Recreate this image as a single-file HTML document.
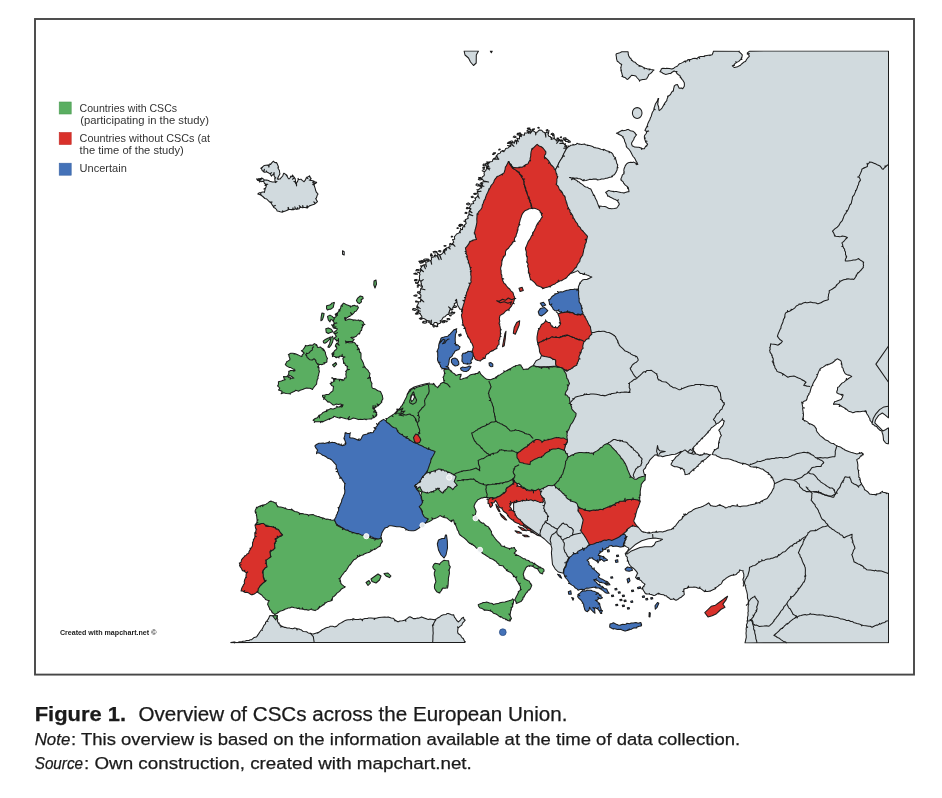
<!DOCTYPE html>
<html><head><meta charset="utf-8"><title>Figure 1</title>
<style>
html,body{margin:0;padding:0;background:#fff;}
body{width:942px;height:798px;position:relative;overflow:hidden;}
svg{position:absolute;left:0;top:0;}
text{font-family:"Liberation Sans",sans-serif;white-space:pre;}
</style></head><body>
<svg width="942" height="798" viewBox="0 0 942 798">
<rect x="35" y="19" width="879" height="655.6" fill="none" stroke="#474747" stroke-width="1.9"/>
<defs><clipPath id="mapclip"><rect x="225" y="50.4" width="664" height="593"/></clipPath></defs>
<g clip-path="url(#mapclip)" stroke="#1c1c1c" stroke-width="1.05" stroke-linejoin="round">
<path d="M230.8 642.6L234.0 642.0L234.5 643.4L234.7 641.9L235.5 642.5L236.8 642.4L238.0 642.2L240.0 641.8L241.2 641.9L242.8 641.3L245.3 641.0L246.5 640.5L249.3 640.5L249.9 639.7L251.7 639.7L254.2 637.4L256.1 637.1L256.7 636.7L257.7 635.1L258.6 633.9L259.8 632.0L261.1 630.2L261.6 629.9L262.3 630.4L261.8 629.5L262.7 628.1L264.0 625.3L265.6 623.6L265.5 622.3L266.8 621.1L268.0 621.6L267.0 620.8L268.6 618.6L269.5 616.2L270.0 615.6L273.0 615.7L274.5 616.1L275.9 615.8L277.3 615.9L277.5 615.8L277.2 617.9L277.8 619.7L277.3 620.9L278.5 623.2L279.3 623.0L278.8 623.7L280.0 624.4L279.8 625.3L282.0 626.2L280.4 626.9L282.5 626.4L284.7 627.4L285.0 627.2L287.2 628.1L289.8 628.0L290.0 628.2L292.7 628.7L294.8 627.9L296.6 628.5L297.0 630.0L297.4 628.8L298.9 629.0L300.2 629.6L301.6 630.1L303.3 631.6L306.6 631.8L308.2 632.9L309.6 633.2L311.8 633.8L313.3 634.1L314.9 633.4L316.5 632.9L317.8 632.6L317.7 633.2L318.5 632.4L318.4 632.7L320.7 631.0L322.6 629.4L323.3 629.3L326.2 627.8L329.3 627.0L330.0 626.3L332.7 626.3L334.9 626.9L336.2 626.3L336.5 626.5L338.6 624.3L340.1 623.4L341.8 622.5L343.0 621.8L345.3 620.4L346.7 619.9L348.1 619.8L350.1 619.7L352.0 619.2L353.3 618.8L352.7 620.1L353.7 618.8L355.0 619.6L357.0 619.4L358.3 619.6L360.5 619.1L361.8 619.6L362.4 620.8L362.5 619.5L362.9 619.2L364.9 618.4L367.6 618.4L368.3 618.1L371.0 617.9L373.6 618.3L375.0 618.3L374.1 619.5L375.7 618.2L376.2 618.2L379.0 617.5L381.7 617.2L384.9 617.1L386.2 617.3L388.2 616.9L391.3 618.1L393.3 618.3L395.2 620.1L394.6 620.8L395.7 620.5L397.8 621.7L398.3 621.8L399.8 621.0L402.4 620.8L404.6 620.3L405.0 620.0L405.9 621.3L405.5 619.7L407.3 618.4L408.6 617.3L410.0 616.7L412.0 617.8L413.3 618.6L415.7 618.6L417.8 618.1L418.3 618.2L420.5 617.5L421.6 616.9L424.1 617.9L427.0 619.1L428.3 619.5L429.9 619.1L433.2 619.4L435.0 620.0L435.1 619.3L435.4 619.7L437.2 618.3L439.2 617.3L441.5 615.4L443.4 614.8L446.1 614.4L447.0 613.6L448.3 613.4L450.4 614.2L451.7 614.9L453.6 614.8L454.6 617.6L455.3 618.0L456.7 620.5L458.5 621.9L457.9 621.8L458.7 621.7L459.6 620.8L460.7 619.8L461.5 618.5L463.5 617.3L463.9 619.2L465.2 620.1L463.9 621.6L462.5 623.1L461.8 625.1L459.6 626.7L458.4 627.8L457.5 626.9L458.0 628.3L457.9 629.1L457.6 631.8L458.1 633.5L460.8 635.4L461.5 637.0L462.7 638.3L463.2 638.3L464.5 641.3L465.3 641.4L464.6 641.6L465.0 642.5Z" fill="#d1dade"/>
<path d="M462.5 309.2L460.0 309.2L457.5 305.0L456.5 299.3L455.3 300.5L456.8 301.7L456.0 302.8L454.2 303.7L454.8 306.3L452.7 307.5L452.8 309.8L452.1 309.6L448.6 306.9L451.7 310.1L449.6 309.9L449.3 312.4L449.2 314.0L448.9 311.9L448.8 314.5L447.5 314.3L446.4 315.2L444.8 316.8L443.3 317.2L442.7 318.2L441.5 320.3L440.2 320.4L440.6 322.9L439.5 323.6L438.1 323.8L437.3 326.2L437.5 324.0L436.8 322.6L434.5 322.5L433.1 324.7L434.0 326.6L432.7 324.5L431.3 324.5L431.4 320.1L430.6 324.3L430.3 323.3L428.6 322.3L429.2 321.6L427.7 321.0L430.1 321.0L427.3 320.6L426.5 321.0L426.3 320.1L425.7 319.4L423.8 318.6L422.2 318.3L420.0 318.2L421.9 317.9L421.8 316.4L421.1 315.3L420.4 314.3L420.3 313.3L419.3 313.6L418.8 312.5L417.9 310.8L420.4 311.2L417.6 310.1L418.1 309.6L417.6 307.4L416.6 307.7L417.4 306.7L416.7 306.4L420.3 308.6L416.8 306.0L417.3 305.6L417.8 304.4L418.5 303.1L417.7 301.7L420.6 301.8L420.6 299.5L423.8 301.9L420.7 298.9L419.1 298.1L418.1 297.9L419.2 297.4L420.7 297.4L420.9 295.1L418.7 293.0L419.7 292.1L420.4 290.6L420.7 288.8L425.0 289.8L420.8 288.4L421.5 287.9L422.5 287.0L422.5 286.4L420.4 285.9L422.4 286.0L421.3 285.5L421.5 283.8L420.9 284.6L421.3 283.5L420.8 281.5L423.3 279.6L420.7 281.1L419.5 280.1L419.2 279.5L418.1 282.7L419.5 279.5L419.6 280.0L419.5 278.0L419.4 276.2L420.0 274.5L419.2 272.7L417.3 272.3L419.1 272.2L420.2 272.1L420.7 270.8L420.0 269.2L423.5 271.7L420.3 268.6L421.4 267.7L421.3 266.7L420.5 265.9L421.5 266.4L422.4 266.1L421.9 265.4L422.7 265.4L422.1 265.8L423.6 265.0L425.4 268.7L423.9 264.8L425.6 264.4L426.5 266.8L426.0 264.2L425.7 262.2L427.7 261.7L428.0 261.4L429.0 261.1L430.6 260.6L431.7 264.3L431.0 260.3L431.5 259.4L431.3 257.5L433.8 256.9L434.7 255.0L435.2 257.0L435.1 254.8L437.2 256.3L439.1 259.7L437.8 256.1L437.7 254.0L436.7 252.4L438.1 253.8L439.4 255.0L441.3 259.5L439.9 254.8L441.5 254.3L442.1 253.7L443.2 252.7L443.3 250.7L445.2 254.1L443.8 250.1L444.0 249.7L444.9 251.6L444.6 249.2L446.2 250.2L445.5 248.6L446.5 250.0L446.3 247.9L448.3 247.4L450.3 249.0L448.6 247.1L450.1 246.8L449.6 243.9L453.3 244.5L450.1 243.4L451.9 244.9L452.3 243.7L455.0 246.3L452.5 243.3L453.8 242.2L452.6 239.6L454.7 239.2L454.3 236.9L455.5 235.5L456.6 234.0L457.7 233.6L459.3 232.7L459.6 231.4L460.5 232.8L459.9 230.9L460.9 229.9L460.3 228.3L461.2 229.4L462.5 229.6L462.5 227.9L463.6 226.2L464.0 225.3L464.8 226.9L464.2 225.0L464.8 224.9L466.3 223.2L465.6 221.9L463.8 221.1L465.8 221.5L465.2 219.7L468.3 218.3L467.7 216.8L468.7 214.6L472.9 215.7L468.9 213.9L469.1 213.9L468.9 212.2L469.3 211.1L472.0 212.7L469.4 210.5L470.9 209.2L468.7 208.0L471.0 208.7L468.9 207.8L470.6 206.0L471.0 204.1L473.7 203.5L472.9 201.5L475.4 200.3L475.5 198.0L474.6 198.1L475.8 197.7L476.9 197.0L477.6 195.7L479.3 198.2L477.8 195.3L478.1 195.2L478.1 193.7L477.1 192.1L481.1 191.2L477.2 191.7L477.9 191.2L477.9 190.1L476.8 189.7L478.0 189.8L479.5 189.0L479.8 188.2L481.5 188.1L480.6 187.7L481.8 187.6L480.0 185.9L484.0 186.3L480.3 185.4L481.5 184.0L482.8 186.0L481.7 183.6L482.9 183.7L481.1 183.1L480.2 183.5L481.2 182.8L483.9 181.6L488.6 182.1L484.0 180.9L481.8 179.0L480.4 177.4L481.8 178.6L482.3 176.9L484.0 175.8L484.4 174.7L484.0 173.3L484.4 171.9L482.2 170.7L484.6 171.6L485.8 170.5L486.3 169.1L490.0 168.2L486.6 168.5L486.3 166.9L489.4 169.9L486.6 166.3L489.0 166.7L487.9 165.6L487.5 164.0L488.2 165.1L487.8 164.3L488.4 163.3L486.8 161.8L488.7 163.0L490.2 161.7L492.3 161.4L492.9 159.3L494.9 159.2L493.1 159.0L494.4 159.3L498.9 159.1L494.6 159.0L493.7 158.5L495.7 157.8L496.3 155.7L498.6 159.4L496.6 155.4L497.6 154.7L498.0 153.8L499.1 153.6L500.4 152.9L500.7 151.6L501.9 151.0L503.9 151.8L502.4 150.6L504.6 150.9L505.7 148.5L508.1 148.0L509.2 146.8L510.3 146.5L507.6 145.5L510.8 146.1L510.5 144.8L511.6 144.7L513.9 146.4L512.1 144.3L511.4 142.5L509.7 142.2L511.9 142.1L514.4 143.2L515.0 140.4L516.7 142.2L515.4 140.1L516.4 141.0L516.6 144.0L516.8 140.7L517.3 140.1L518.4 141.6L517.6 139.9L516.9 138.2L519.4 138.9L519.6 135.4L520.6 136.4L519.8 135.2L521.0 134.4L521.4 136.7L521.3 134.2L522.1 134.7L524.4 135.3L524.7 132.9L527.0 133.1L528.4 131.9L528.6 133.4L529.1 131.7L530.2 132.4L530.8 132.0L532.3 130.6L530.0 133.6L532.8 130.5L533.8 131.2L535.4 132.4L535.7 134.9L536.2 132.3L537.5 132.0L538.3 130.9L539.5 130.0L541.8 130.2L542.8 131.7L544.9 132.7L545.9 137.2L545.6 132.9L546.5 132.1L547.1 132.5L548.3 133.2L549.0 130.4L548.5 133.5L548.0 134.6L549.0 136.5L550.3 136.5L550.3 136.5L550.8 137.8L552.1 137.5L551.5 138.2L551.1 139.4L553.9 138.5L554.1 136.1L554.5 138.9L555.9 139.5L556.2 141.0L557.1 139.6L556.6 140.9L557.1 140.1L559.3 139.5L556.7 143.4L559.7 139.4L561.1 141.6L562.0 139.8L559.6 140.8L562.4 140.2L562.6 141.4L563.2 143.1L559.7 143.4L563.5 143.4L564.8 144.8L565.3 143.5L565.4 145.3L565.8 145.9L564.4 146.2L566.4 146.4L566.9 145.6L566.9 146.5L566.7 147.6L563.6 148.2L566.7 148.1L567.0 147.7L560.6 160.5L555.3 170.1L547.8 175.4L526.5 183.9L515.8 194.5L505.2 226.5L490.3 256.3L483.9 290.0L473.3 296.7Z" fill="#d1dade"/>
<path d="M475.9 185.1L476.8 183.7L478.7 184.4L479.5 185.2L477.7 186.1Z" fill="#d1dade"/>
<path d="M479.5 178.2L478.6 178.0L478.8 177.4L479.7 177.6L480.2 177.9Z" fill="#d1dade"/>
<path d="M417.5 274.2L415.4 274.3L413.7 273.8L415.1 273.1L416.3 273.3Z" fill="#d1dade"/>
<path d="M532.0 129.4L533.0 128.9L534.5 128.8L534.2 129.6L533.0 129.9Z" fill="#d1dade"/>
<path d="M413.7 295.7L415.4 294.9L417.0 295.1L416.9 295.9L415.7 296.2Z" fill="#d1dade"/>
<path d="M444.9 322.2L443.5 322.8L442.1 322.5L441.6 321.5L443.6 321.4Z" fill="#d1dade"/>
<path d="M425.4 261.5L423.3 261.8L421.4 261.7L421.7 260.4L423.6 260.8Z" fill="#d1dade"/>
<path d="M510.0 142.8L509.4 143.3L507.4 143.4L508.2 142.4L509.7 141.8Z" fill="#d1dade"/>
<path d="M552.7 134.4L551.1 134.4L551.4 133.7L552.4 133.1L553.6 133.7Z" fill="#d1dade"/>
<path d="M531.0 130.8L529.4 131.7L526.8 131.0L528.3 129.8L530.8 129.4Z" fill="#d1dade"/>
<path d="M468.3 208.4L467.5 208.6L466.3 208.2L467.0 207.3L468.3 207.9Z" fill="#d1dade"/>
<path d="M448.9 319.8L447.3 319.7L447.1 318.6L449.0 318.5L449.9 319.2Z" fill="#d1dade"/>
<path d="M446.5 321.9L445.9 321.5L445.9 320.9L447.1 320.9L447.3 321.5Z" fill="#d1dade"/>
<path d="M511.1 143.6L509.4 143.8L508.3 143.3L508.7 142.3L510.8 142.6Z" fill="#d1dade"/>
<path d="M564.0 140.3L563.8 139.5L565.0 139.1L565.8 139.6L565.5 140.3Z" fill="#d1dade"/>
<path d="M568.6 142.4L567.6 141.8L567.8 141.1L569.7 140.8L570.5 142.0Z" fill="#d1dade"/>
<path d="M434.0 252.9L433.1 251.7L435.1 251.2L437.0 251.7L436.0 252.7Z" fill="#d1dade"/>
<path d="M462.2 225.8L459.8 225.6L459.2 224.6L460.8 224.3L462.5 224.5Z" fill="#d1dade"/>
<path d="M415.6 283.2L415.5 282.2L417.3 282.2L418.4 282.8L417.3 283.6Z" fill="#d1dade"/>
<path d="M517.2 134.8L517.5 133.3L520.4 133.2L521.0 134.5L519.3 135.3Z" fill="#d1dade"/>
<path d="M414.8 310.5L412.5 309.8L413.1 308.4L415.4 308.7L417.0 309.6Z" fill="#d1dade"/>
<path d="M471.9 197.7L471.1 196.9L472.2 196.1L473.2 196.7L473.3 197.3Z" fill="#d1dade"/>
<path d="M451.3 237.1L451.3 236.5L451.9 236.1L452.7 236.5L452.3 236.9Z" fill="#d1dade"/>
<path d="M421.8 318.8L421.0 319.1L420.4 318.6L420.9 318.1L422.1 318.3Z" fill="#d1dade"/>
<path d="M417.9 287.2L417.2 287.1L417.3 286.7L418.1 286.4L418.4 286.9Z" fill="#d1dade"/>
<path d="M450.3 315.9L449.5 315.6L449.9 314.9L451.2 315.1L451.2 315.7Z" fill="#d1dade"/>
<path d="M516.1 137.2L514.7 137.6L513.2 137.1L514.1 136.1L515.8 136.4Z" fill="#d1dade"/>
<path d="M431.9 254.4L431.1 254.7L430.6 254.3L430.6 253.9L431.7 253.8Z" fill="#d1dade"/>
<path d="M440.7 251.9L439.3 251.7L438.4 251.0L439.8 250.5L440.9 251.0Z" fill="#d1dade"/>
<path d="M416.3 280.6L414.4 280.6L414.9 279.5L416.4 279.4L417.4 280.0Z" fill="#d1dade"/>
<path d="M424.5 322.7L422.6 322.8L422.8 321.9L423.5 321.3L424.5 321.9Z" fill="#d1dade"/>
<path d="M553.9 135.5L552.7 135.9L552.5 135.1L553.3 134.6L554.4 135.0Z" fill="#d1dade"/>
<path d="M482.0 179.6L479.9 180.0L478.3 179.5L479.2 178.6L480.9 178.6Z" fill="#d1dade"/>
<path d="M465.0 213.3L465.2 212.6L466.0 212.3L467.1 212.7L466.7 213.6Z" fill="#d1dade"/>
<path d="M538.0 128.1L537.8 127.6L538.8 127.3L539.4 127.8L538.8 128.2Z" fill="#d1dade"/>
<path d="M546.2 130.5L546.3 129.9L547.7 129.6L547.8 130.4L547.2 131.2Z" fill="#d1dade"/>
<path d="M485.5 164.0L486.0 163.2L487.0 162.9L487.9 163.4L487.1 164.0Z" fill="#d1dade"/>
<path d="M426.6 260.3L426.5 259.6L428.0 259.0L429.3 260.0L427.9 260.9Z" fill="#d1dade"/>
<path d="M450.4 313.1L452.4 312.4L454.9 312.2L454.1 313.5L452.1 314.2Z" fill="#d1dade"/>
<path d="M558.6 138.9L557.5 138.7L556.9 138.3L557.9 137.9L558.5 138.3Z" fill="#d1dade"/>
<path d="M479.7 186.1L479.0 186.0L478.7 185.5L479.7 185.2L480.6 185.7Z" fill="#d1dade"/>
<path d="M420.5 319.2L419.3 318.6L420.5 318.0L421.5 318.3L422.0 319.0Z" fill="#d1dade"/>
<path d="M415.4 313.9L416.0 313.0L417.6 313.2L418.2 314.0L416.8 314.3Z" fill="#d1dade"/>
<path d="M500.0 149.8L498.9 150.1L498.7 149.5L499.2 149.0L500.3 149.3Z" fill="#d1dade"/>
<path d="M437.8 326.6L436.9 326.8L435.8 326.6L436.5 326.1L437.4 326.1Z" fill="#d1dade"/>
<path d="M513.0 141.7L512.1 142.8L510.1 142.0L510.9 141.1L512.3 141.0Z" fill="#d1dade"/>
<path d="M566.3 139.1L564.3 139.4L563.1 138.7L563.7 137.9L565.8 137.8Z" fill="#d1dade"/>
<path d="M430.5 256.0L430.5 255.3L431.7 255.3L432.6 255.8L431.6 256.2Z" fill="#d1dade"/>
<path d="M475.1 194.4L473.9 194.2L473.7 193.4L475.1 193.3L477.0 193.8Z" fill="#d1dade"/>
<path d="M460.1 226.6L459.2 226.2L459.5 225.8L460.3 225.7L460.5 226.1Z" fill="#d1dade"/>
<path d="M418.1 313.0L416.9 312.5L416.7 311.9L417.8 311.7L418.4 312.2Z" fill="#d1dade"/>
<path d="M419.4 270.3L417.8 270.8L415.9 270.7L416.4 269.6L418.2 269.4Z" fill="#d1dade"/>
<path d="M457.4 228.5L456.8 228.1L457.7 227.6L458.4 228.0L458.3 228.5Z" fill="#d1dade"/>
<path d="M452.3 312.7L451.4 312.4L451.4 311.9L452.2 311.7L452.7 312.1Z" fill="#d1dade"/>
<path d="M495.2 153.6L493.9 153.8L493.3 153.1L494.2 152.7L495.6 152.8Z" fill="#d1dade"/>
<path d="M455.6 307.4L453.7 307.4L453.3 306.0L455.9 305.9L456.8 306.8Z" fill="#d1dade"/>
<path d="M433.9 327.2L432.7 326.0L432.9 325.1L434.5 325.3L435.5 326.0Z" fill="#d1dade"/>
<path d="M444.8 321.4L443.8 321.4L442.6 320.7L444.3 320.5L445.5 320.8Z" fill="#d1dade"/>
<path d="M445.4 246.2L444.5 246.3L443.9 245.8L445.1 245.5L446.1 245.8Z" fill="#d1dade"/>
<path d="M418.7 293.3L417.4 292.7L417.6 291.8L419.6 291.7L420.5 292.8Z" fill="#d1dade"/>
<path d="M421.8 262.9L420.2 263.3L419.6 262.5L420.3 261.3L422.8 261.9Z" fill="#d1dade"/>
<path d="M423.1 262.7L422.4 262.8L421.8 262.4L422.6 262.1L423.2 262.3Z" fill="#d1dade"/>
<path d="M489.2 162.8L488.2 162.7L487.7 162.3L488.6 162.0L489.7 162.2Z" fill="#d1dade"/>
<path d="M466.8 204.6L466.7 203.5L468.4 202.9L469.8 203.8L468.9 205.0Z" fill="#d1dade"/>
<path d="M492.6 154.4L492.8 153.8L493.6 153.7L494.2 154.1L493.6 154.6Z" fill="#d1dade"/>
<path d="M483.1 169.3L483.3 168.9L483.9 168.7L484.4 169.0L484.1 169.4Z" fill="#d1dade"/>
<path d="M529.7 128.9L528.0 129.1L527.3 128.3L528.4 127.9L530.0 127.9Z" fill="#d1dade"/>
<path d="M518.2 134.2L517.2 134.0L517.8 133.5L519.0 133.4L519.3 134.1Z" fill="#d1dade"/>
<path d="M425.1 323.3L423.2 322.8L423.3 321.4L426.2 321.1L426.9 322.5Z" fill="#d1dade"/>
<path d="M560.2 137.5L560.5 137.1L561.4 136.7L561.5 137.3L561.2 137.8Z" fill="#d1dade"/>
<path d="M460.7 226.0L459.6 226.1L458.6 225.6L459.6 225.0L461.2 225.2Z" fill="#d1dade"/>
<path d="M417.2 285.3L418.1 284.6L419.5 284.9L419.5 285.6L418.4 285.7Z" fill="#d1dade"/>
<path d="M520.3 133.5L519.6 133.8L518.7 133.4L519.6 133.0L520.6 133.0Z" fill="#d1dade"/>
<path d="M424.5 260.7L423.7 259.5L425.1 259.0L426.9 259.1L426.9 260.3Z" fill="#d1dade"/>
<path d="M417.6 301.6L416.9 302.1L415.6 301.9L415.6 301.1L417.0 301.1Z" fill="#d1dade"/>
<path d="M565.7 141.5L565.0 140.2L566.9 139.3L568.6 140.2L568.2 141.4Z" fill="#d1dade"/>
<path d="M484.6 167.8L483.9 168.3L482.7 168.0L483.0 167.2L484.5 167.1Z" fill="#d1dade"/>
<path d="M419.6 261.8L418.8 261.3L420.1 260.9L421.5 261.3L420.9 262.2Z" fill="#d1dade"/>
<path d="M484.0 165.7L482.8 165.0L483.9 163.9L485.6 164.6L486.4 165.8Z" fill="#d1dade"/>
<path d="M467.5 208.8L466.7 208.8L466.5 208.2L467.6 207.9L468.2 208.5Z" fill="#d1dade"/>
<path d="M541.4 355.4L547.8 356.5L555.3 359.7L556.3 366.1L547.8 366.7L539.3 366.7L532.9 366.1L536.1 360.8L540.3 358.6Z" fill="#d1dade"/>
<path d="M540.2 535.8L544.5 539.0L548.2 542.7L550.9 544.8L551.9 548.6L551.4 552.8L551.9 558.2L552.5 564.5L555.1 568.8L558.3 572.0L562.6 573.1L573.2 564.5L594.5 537.9L583.9 506.0L557.3 479.4L530.6 484.7L513.6 500.6L513.6 516.6Z" fill="#d1dade"/>
<path d="M567.1 147.8L568.4 146.9L568.3 146.0L568.9 146.5L570.3 145.7L570.6 145.3L573.4 145.1L572.8 144.3L574.0 144.9L576.3 144.3L577.0 143.3L578.7 143.9L579.1 144.3L579.3 143.9L581.6 144.4L584.6 144.0L585.5 144.8L587.5 145.1L587.3 145.6L587.8 145.2L589.5 145.6L592.7 146.4L593.7 147.4L595.1 147.7L595.0 147.3L595.4 147.8L598.3 148.2L600.9 149.3L603.5 149.5L603.9 149.3L603.3 150.4L604.4 149.6L606.4 150.8L609.2 151.6L609.1 152.7L609.5 151.7L610.5 152.3L611.4 152.6L612.8 154.1L613.6 156.3L615.5 157.7L614.3 159.0L615.7 158.0L615.4 158.3L616.3 161.0L616.8 163.5L617.6 164.6L617.7 165.7L617.2 167.3L618.1 167.8L617.2 167.7L617.1 170.0L616.5 171.1L616.2 171.9L614.4 174.7L613.0 175.2L612.3 176.7L611.7 176.1L611.6 176.9L609.7 177.3L607.0 178.2L605.8 178.3L604.6 178.8L603.4 179.1L601.6 178.9L600.1 179.4L597.5 179.9L597.3 179.5L597.1 179.8L597.0 179.5L596.1 179.1L593.3 179.1L592.0 179.6L589.8 179.3L588.5 179.8L586.0 180.4L583.3 180.8L584.2 179.5L582.8 180.6L581.9 179.8L579.9 178.7L578.1 178.7L576.9 178.0L574.8 178.2L572.8 177.8L571.5 178.0L569.5 177.5L570.8 177.6L572.2 178.4L571.5 179.8L573.0 178.7L574.4 179.1L574.8 179.6L577.0 180.5L577.7 181.7L579.0 181.8L580.0 183.0L582.6 184.6L584.8 186.6L585.7 186.9L587.6 187.3L589.2 188.6L590.8 189.1L592.2 191.9L593.1 194.1L593.8 195.0L594.4 195.4L593.2 195.3L594.6 195.8L594.7 196.5L595.5 198.6L596.6 200.4L597.1 201.7L597.4 202.9L597.9 204.1L598.9 206.7L599.7 208.3L599.3 206.0L601.8 206.3L604.8 206.4L606.5 207.1L607.6 207.7L609.1 208.6L610.1 208.5L611.3 208.7L614.4 208.4L616.7 208.0L617.7 206.7L618.8 204.9L619.2 204.7L619.1 203.4L618.0 201.9L617.4 200.6L618.5 199.9L617.0 200.5L615.4 199.6L613.8 199.0L612.2 198.1L610.3 197.3L609.2 196.3L608.0 195.9L607.7 196.2L607.6 195.4L606.7 193.6L605.6 192.5L608.2 190.8L609.0 190.4L610.3 191.1L613.2 191.6L613.1 191.2L613.8 191.7L615.6 191.4L616.4 191.4L617.6 191.7L620.8 192.4L623.0 192.7L624.0 193.1L625.2 192.6L627.8 191.8L629.0 191.7L628.5 188.6L627.8 188.7L628.5 188.2L628.2 187.5L627.4 188.0L627.7 187.0L626.4 185.9L625.3 185.1L623.9 183.4L623.7 183.4L623.2 181.9L621.2 180.4L621.9 180.3L620.7 179.9L621.1 180.1L621.0 178.5L621.7 177.2L622.3 175.1L623.6 173.8L624.1 173.8L623.9 173.1L624.2 172.1L623.6 172.1L624.2 171.8L623.8 170.9L624.0 169.0L625.1 166.2L625.2 165.9L626.6 163.9L628.3 162.8L628.2 162.7L630.7 162.2L632.6 162.5L633.7 162.1L635.9 163.3L636.3 164.7L636.4 163.5L637.8 164.5L637.1 162.6L636.0 161.1L635.4 159.5L634.6 158.3L634.7 158.1L633.1 156.5L632.3 155.1L631.3 153.0L630.4 151.3L628.5 148.8L627.1 147.6L626.3 146.4L626.0 144.2L624.9 141.8L624.7 141.4L624.3 139.3L622.6 136.9L623.3 136.8L622.4 136.5L621.8 135.7L619.0 134.5L618.7 133.7L618.5 134.3L617.1 133.4L616.4 133.3L617.7 132.8L620.5 131.2L622.2 130.3L622.9 130.8L625.7 130.3L627.4 129.6L628.2 129.4L630.4 130.8L632.9 131.2L633.5 131.6L634.7 132.6L636.2 134.9L636.6 134.7L635.4 136.3L634.2 137.9L633.9 139.2L632.3 141.7L631.6 143.1L631.6 144.2L632.4 146.0L633.5 146.3L634.6 147.1L637.7 147.3L638.9 147.2L641.1 148.0L641.8 149.5L641.6 148.1L642.5 148.7L644.3 148.7L645.5 146.5L646.7 145.5L646.8 146.1L647.1 144.9L647.6 144.2L645.7 142.1L645.4 141.2L647.0 141.2L645.3 140.8L644.4 138.1L645.4 138.1L644.4 137.8L644.4 136.0L644.9 135.0L646.2 133.5L646.7 131.9L647.3 131.6L648.7 131.1L646.6 131.2L646.2 131.3L644.9 130.4L645.6 129.0L647.0 126.3L647.8 126.7L647.2 125.8L647.1 126.2L648.0 123.2L649.2 120.7L649.7 120.0L650.5 117.6L651.2 116.4L652.0 113.5L652.4 112.3L653.8 110.3L653.9 108.8L655.1 109.7L654.0 108.5L654.3 107.3L654.8 106.3L654.8 106.0L655.5 103.7L656.8 101.9L657.5 100.6L658.0 98.5L658.7 98.6L658.1 100.8L658.0 102.8L657.6 104.0L658.7 107.0L658.8 109.1L659.2 110.6L660.5 109.6L662.0 108.1L663.2 106.1L664.2 103.9L664.7 104.6L664.6 103.3L665.1 102.7L666.8 100.7L667.0 99.1L667.9 97.0L668.4 96.3L667.5 96.3L668.8 95.8L670.5 94.5L671.7 92.1L672.7 91.1L673.3 91.2L673.7 88.4L674.3 86.3L674.1 86.1L675.3 85.1L677.4 84.5L678.0 85.7L679.2 88.3L681.6 88.0L682.7 88.7L684.3 86.2L684.4 84.8L684.3 82.8L682.7 80.0L682.2 79.6L681.0 77.9L680.5 76.8L680.3 77.6L680.1 76.2L679.8 75.3L679.2 75.3L676.9 73.5L676.3 72.1L677.0 71.5L675.7 71.7L674.1 71.0L674.1 71.0L671.3 72.8L670.8 73.6L669.4 73.4L667.5 74.0L665.5 74.4L664.5 73.9L662.9 73.2L661.0 71.9L659.9 71.8L661.2 69.8L661.2 68.9L662.8 68.2L665.9 68.6L666.5 68.2L669.3 68.4L671.9 69.1L673.9 68.2L674.7 67.4L677.6 66.0L678.7 64.5L679.6 63.7L680.4 63.6L682.9 62.4L684.6 61.2L685.7 62.1L685.1 61.0L687.0 60.9L687.7 59.8L689.0 59.6L689.6 61.2L689.6 59.4L690.7 59.6L693.0 58.5L694.9 58.2L696.4 58.5L697.2 59.0L697.0 58.3L698.6 57.1L699.7 58.4L699.0 57.0L700.7 56.6L703.7 56.4L704.8 55.8L704.2 56.6L705.4 55.7L706.9 55.4L708.3 55.2L710.4 55.0L710.0 55.6L711.0 54.9L712.1 54.8L712.6 53.8L713.5 51.2L713.4 51.1L738.6 51.3L739.4 50.9L739.0 51.8L740.1 52.6L741.4 53.9L742.3 54.9L741.9 57.3L741.3 57.6L741.8 57.9L741.1 58.7L741.9 59.4L740.9 59.4L741.0 59.2L738.8 61.4L736.8 62.4L735.7 61.8L736.5 62.6L734.9 63.6L733.8 65.1L734.4 65.4L733.2 65.5L732.3 65.8L734.1 67.4L734.6 67.4L737.5 66.7L739.5 65.6L740.0 65.6L741.6 64.0L743.9 62.1L745.5 61.5L746.4 59.8L747.8 57.8L749.3 56.4L749.3 56.2L748.6 54.5L749.4 53.7L748.2 54.0L747.9 53.0L747.4 52.8L747.3 54.3L748.0 52.3L749.6 51.1L888.5 51.0L888.5 642.8L745.0 642.9L745.6 640.3L745.9 638.8L746.3 637.3L746.2 635.0L746.0 633.2L746.3 630.7L746.1 629.2L746.5 626.5L747.6 627.4L746.6 626.2L746.4 624.9L747.4 622.7L747.2 621.3L747.6 620.1L747.4 617.7L748.1 615.2L747.9 612.3L748.3 611.6L748.1 608.7L748.2 605.9L748.8 604.2L748.3 603.1L748.4 601.1L748.2 599.7L747.5 598.2L747.4 595.6L747.4 594.5L746.7 591.4L746.0 589.2L745.6 587.1L745.2 586.0L745.8 585.8L745.0 585.4L745.0 584.5L744.0 582.6L743.1 580.2L742.9 579.5L743.9 576.8L743.8 575.5L743.8 574.1L742.9 571.6L743.2 570.7L741.2 570.5L739.6 569.9L739.2 571.8L737.6 572.9L736.2 574.4L733.5 575.3L733.5 574.3L733.0 575.3L731.7 575.3L729.3 576.3L728.4 576.7L727.4 577.4L726.0 578.3L724.2 579.8L722.8 580.7L721.5 583.5L720.9 584.1L719.3 585.0L718.1 586.1L715.9 587.6L715.6 588.6L715.1 587.5L715.3 588.8L712.9 589.8L711.5 590.4L710.1 591.3L710.1 591.1L707.7 591.6L705.0 591.3L705.7 590.1L704.7 591.3L704.6 591.7L703.0 590.4L701.7 589.4L699.9 588.1L699.5 588.4L700.0 587.0L698.8 588.3L698.2 588.2L696.0 587.3L693.9 587.0L693.1 587.2L690.3 587.2L688.0 587.4L688.7 586.1L687.4 587.5L687.8 588.0L685.8 588.4L684.3 588.8L683.7 589.2L684.6 588.8L683.8 589.9L683.9 590.9L682.7 591.5L684.0 591.5L684.0 592.6L684.3 594.4L684.2 594.6L681.9 596.5L681.2 597.3L679.1 598.3L677.7 599.5L676.0 600.2L673.9 599.2L673.8 598.4L673.3 599.1L670.6 599.4L669.4 598.3L667.0 596.7L666.4 595.8L664.7 595.7L663.6 594.7L661.1 594.6L658.7 593.3L658.9 594.2L658.3 593.2L657.9 593.5L655.1 595.2L653.8 595.4L651.3 594.5L649.5 594.2L649.4 593.4L649.2 594.1L646.9 593.9L646.8 594.2L646.3 593.7L645.5 593.7L645.3 593.4L643.7 590.8L642.6 588.9L641.7 589.0L642.3 588.5L641.9 588.2L643.0 589.1L642.4 587.6L643.6 586.4L644.0 586.7L643.8 586.0L645.0 584.1L642.4 582.4L641.6 581.2L641.0 580.5L638.3 579.3L638.4 578.8L637.9 579.1L637.2 579.0L635.5 577.4L637.0 574.6L637.3 573.3L637.7 573.2L636.6 571.6L635.3 570.1L634.4 569.1L633.0 567.9L631.7 567.3L630.7 566.2L630.3 565.8L628.8 563.5L628.3 561.1L627.8 560.6L627.2 561.1L627.6 559.9L627.2 558.6L627.4 557.2L626.2 556.4L625.2 553.6L627.0 551.7L628.0 550.2L628.9 548.1L626.5 546.9L624.8 545.7L624.3 545.0L624.2 545.9L623.0 546.8L621.3 544.7L619.4 542.5L619.3 541.1L618.9 542.0L617.3 541.2L616.0 539.8L614.0 537.8L612.2 536.8L611.3 535.3L609.5 533.9L607.6 532.6L608.3 532.5L607.1 532.1L606.2 530.5L604.2 528.3L602.4 527.6L601.7 526.2L600.2 525.5L599.8 525.0L599.0 525.2L599.8 524.5L599.9 523.8L599.8 521.1L600.1 519.4L600.2 516.8L600.0 514.8L599.6 515.2L600.0 514.5L599.9 513.2L600.7 513.4L599.9 512.5L600.0 510.8L599.7 509.2L600.3 508.0L600.0 506.9L600.1 505.6L599.7 503.5L599.8 501.9L599.7 499.7L600.0 498.6L599.8 497.0L600.0 494.9L601.0 495.3L600.0 494.4L599.6 493.6L600.1 492.0L600.1 490.8L600.0 489.2L600.0 486.8L600.0 485.1L600.3 484.7L598.3 482.5L596.2 481.0L594.7 479.2L593.0 477.2L591.9 476.2L590.8 474.0L588.7 472.1L587.1 470.2L585.4 468.2L582.9 466.0L581.3 463.9L582.5 463.1L580.8 463.3L580.4 461.8L580.0 462.4L578.9 462.1L579.1 462.9L578.2 462.1L577.6 462.4L577.9 462.9L577.2 462.4L575.8 461.7L572.8 462.3L571.0 462.4L568.0 461.8L565.5 461.7L565.7 460.5L564.9 461.7L562.5 462.0L561.4 461.6L560.0 462.0L559.6 460.5L558.0 458.6L557.6 457.2L557.1 455.8L555.2 453.2L554.7 451.9L556.1 449.3L555.5 448.0L556.1 445.3L557.0 443.9L557.6 441.7L557.5 439.1L558.5 436.8L558.1 436.2L558.6 436.2L559.3 434.6L559.6 432.9L559.8 430.0L560.1 428.3L559.9 427.0L559.7 424.1L559.3 421.7L558.8 420.3L559.4 420.6L558.7 419.7L559.0 417.7L558.8 416.2L558.5 414.0L558.4 410.8L557.8 408.2L557.7 405.0L556.9 403.1L557.4 400.0L557.2 398.4L556.9 395.5L556.4 393.5L555.9 392.4L555.1 391.9L555.9 392.0L555.5 389.3L555.9 386.4L555.5 384.0L555.2 382.2L555.2 380.0L555.1 378.1L555.5 376.8L556.5 375.6L557.0 374.4L557.2 371.0L558.0 369.7L559.4 370.2L558.1 369.2L558.5 368.1L559.2 365.9L559.6 362.8L561.0 360.1L561.4 358.6L561.6 355.4L562.1 355.0L563.1 353.0L562.5 353.1L563.2 352.7L563.5 350.7L564.6 349.8L565.6 347.4L566.2 344.4L567.4 342.3L568.5 339.4L569.4 337.3L570.5 335.7L571.2 334.4L571.9 332.9L571.1 332.8L572.1 332.3L572.1 331.5L573.3 329.6L573.6 328.2L574.4 327.1L574.7 325.1L574.1 322.1L573.6 319.0L575.3 319.6L573.4 318.3L572.4 316.5L572.0 315.2L571.7 313.0L571.2 309.8L572.1 309.1L571.0 309.4L570.3 306.7L569.5 304.9L568.8 303.6L568.0 301.3L567.7 300.2L568.1 300.1L569.9 297.7L571.3 295.6L573.5 293.8L573.5 294.6L574.0 293.2L575.6 291.4L577.3 290.0L576.6 289.5L577.8 289.5L578.5 288.7L578.4 286.7L579.4 284.5L579.8 282.8L580.4 283.5L580.2 282.3L580.9 281.9L582.4 280.1L584.3 279.6L586.2 279.4L587.8 279.2L587.9 278.5L588.1 279.0L589.0 278.4L590.8 277.6L591.8 277.1L590.1 276.4L587.8 275.2L586.6 275.0L586.6 274.8L584.1 274.6L584.7 273.1L583.3 274.5L582.3 273.6L580.4 273.5L579.5 272.7L578.5 271.4L577.6 270.7L577.2 270.9L574.8 272.1L572.2 273.1L570.1 273.6L568.8 275.1L566.6 276.2L565.1 278.5L564.5 275.3L564.3 273.4L563.5 271.0L563.4 267.9L564.2 268.3L563.3 267.5L562.3 266.5L561.7 266.8L562.3 266.2L562.3 263.2L561.4 260.8L561.6 258.5L560.6 255.8L560.5 252.6L559.7 250.1L560.3 249.9L561.8 250.6L560.2 249.4L559.7 248.5L559.0 246.1L558.7 243.0L558.5 240.0L559.7 239.1L558.4 239.7L558.0 237.5L556.7 234.9L556.5 232.2L556.5 230.7L555.5 227.6L555.3 225.0L554.5 223.6L553.8 220.8L553.9 218.8L552.8 216.0L553.0 213.8L553.6 212.9L552.9 213.3L552.6 211.9L552.5 210.3L551.9 208.4L551.0 207.4L551.0 205.1L550.4 201.9L549.5 202.5L550.3 201.4L550.2 200.0L551.9 200.3L550.3 199.6L550.0 196.9L549.9 195.4L550.9 193.1L550.4 190.0L551.2 187.0L551.0 184.0L551.3 180.7L551.3 177.5L551.9 177.7L551.3 177.1L551.6 176.3L551.5 174.4L552.3 172.3L552.2 172.3L554.7 170.4L555.5 170.2L555.8 169.0L557.5 166.3L558.7 167.2L557.7 166.0L558.7 163.2L558.4 163.0L559.0 162.7L559.7 161.3L560.3 160.4L561.4 158.8L562.4 157.5L562.7 156.1L564.5 156.1L562.9 155.8L563.8 153.6L564.6 152.2L566.1 149.3L567.4 147.7Z" fill="#d1dade"/>
<path d="M616.4 53.8L619.1 53.1L621.8 51.7L628.1 51.7L628.3 54.5L628.9 56.3L629.3 56.9L629.9 57.9L630.7 58.7L630.9 58.3L631.0 59.0L631.5 59.7L631.4 60.4L631.9 60.1L633.3 61.7L635.2 62.3L636.9 64.1L639.2 65.6L639.9 65.6L639.0 66.2L640.5 65.9L641.4 66.3L643.9 67.6L644.2 69.0L644.3 67.8L645.2 68.3L646.3 68.4L647.3 69.0L649.4 69.0L649.2 70.0L649.9 69.1L650.8 69.4L654.0 70.0L652.9 70.8L651.7 72.5L651.4 72.7L650.4 73.6L648.7 74.5L648.6 75.2L647.8 76.8L646.8 78.5L646.3 79.1L644.1 79.5L642.8 79.6L640.0 80.3L639.7 80.7L639.5 81.2L639.3 80.3L638.3 79.0L637.3 78.0L635.8 76.0L635.6 76.1L633.7 75.6L631.5 75.2L630.1 77.0L627.7 79.3L627.1 79.4L624.9 77.4L623.0 76.9L622.8 76.2L621.9 76.5L622.6 75.6L622.3 75.0L621.6 72.3L620.9 70.6L620.9 69.8L621.5 70.3L621.0 69.5L620.9 68.3L620.6 67.8L621.0 67.8L621.1 66.5L621.5 64.8L621.8 64.5L619.9 63.5L618.4 61.8L617.3 61.4L617.0 60.3L616.5 58.6L616.4 57.0L616.0 54.8Z" fill="#d1dade"/>
<path d="M256.6 178.9L259.3 179.2L258.8 178.6L260.0 179.0L260.6 178.5L261.0 179.9L261.2 178.4L261.8 178.0L259.9 179.8L262.5 178.3L264.1 179.7L265.7 180.1L266.7 180.1L268.5 180.5L269.7 181.3L272.4 181.9L275.3 181.9L275.4 182.6L277.0 181.6L275.3 182.0L275.0 180.6L274.8 179.0L275.8 177.9L274.7 178.3L275.0 177.0L274.1 176.0L274.1 174.1L274.1 172.4L273.5 174.4L272.7 174.7L271.4 176.1L270.1 173.9L271.7 172.7L269.8 173.6L268.3 172.7L266.9 172.0L266.3 170.9L266.3 171.9L264.5 172.3L263.9 172.0L264.4 169.3L263.5 171.7L262.1 170.4L261.4 168.4L262.5 167.3L261.0 168.0L260.9 168.5L261.7 167.6L263.8 165.8L264.2 165.5L266.0 165.2L267.6 165.1L268.7 166.2L268.2 165.0L268.7 165.4L268.9 167.2L269.2 165.3L268.9 164.7L270.5 164.5L269.9 163.9L270.8 164.2L271.7 162.9L273.4 161.2L274.6 162.4L276.6 162.5L276.0 163.0L276.8 162.9L277.5 164.5L278.6 167.2L277.8 167.7L279.4 170.4L279.6 172.4L279.9 173.9L278.5 176.5L277.4 179.0L278.2 179.4L277.8 178.9L280.2 178.9L280.7 178.2L282.7 176.0L283.6 173.3L284.2 173.3L286.5 175.0L286.3 175.8L287.1 175.4L287.1 176.0L287.9 177.9L289.0 179.0L291.1 176.8L290.4 176.3L291.5 176.3L292.1 176.1L292.8 176.8L292.6 175.5L292.5 175.0L293.4 176.3L294.5 177.6L292.5 179.2L294.5 177.9L295.2 178.7L295.4 180.4L295.6 182.0L293.9 181.5L295.6 182.4L295.5 183.2L296.0 183.5L296.6 186.0L296.5 182.9L297.6 181.4L298.2 179.7L298.0 178.4L298.8 179.5L300.6 179.3L300.9 179.1L302.5 180.6L304.1 181.7L305.3 180.2L306.3 177.8L308.0 178.5L306.7 177.2L306.7 177.4L308.8 176.4L309.9 176.9L309.2 176.2L309.5 175.7L310.2 177.3L310.7 178.5L311.2 178.2L310.9 178.8L310.5 179.8L309.2 180.1L310.7 180.4L310.7 180.2L313.6 181.0L312.7 182.8L314.3 181.3L314.1 181.9L316.2 182.0L316.7 182.5L315.3 183.5L313.3 183.0L314.7 184.1L314.1 184.6L312.7 184.4L313.8 184.9L314.1 185.0L314.9 187.6L315.5 189.4L315.4 189.8L316.5 192.5L317.7 193.4L317.9 194.4L317.2 195.3L316.4 198.0L315.7 198.4L317.0 200.9L317.5 201.7L315.6 203.3L313.8 201.8L315.3 203.6L314.2 204.3L311.9 205.0L310.0 205.8L309.8 205.6L308.1 207.2L307.2 206.2L307.5 207.6L307.3 208.1L306.8 207.9L307.1 205.6L306.5 207.8L304.8 207.5L303.3 207.6L302.7 205.5L302.7 207.7L301.3 207.4L299.2 205.7L300.7 207.6L299.2 207.8L299.3 208.8L296.9 209.3L297.5 207.8L296.4 209.4L295.5 208.9L294.9 206.8L295.2 209.0L293.3 209.7L293.0 207.8L292.6 209.6L290.8 209.6L289.1 209.4L288.0 207.4L288.7 209.3L288.5 209.7L288.4 207.6L287.9 209.9L285.4 210.9L283.1 211.8L282.7 210.7L282.5 212.1L282.4 212.2L280.2 211.7L278.7 211.2L277.2 211.1L276.5 209.5L275.3 208.3L273.8 207.6L273.4 206.6L275.4 205.4L273.1 206.3L272.2 204.9L271.5 203.7L270.7 202.7L272.1 202.0L270.3 202.1L270.1 202.4L268.5 200.9L266.7 199.0L264.9 198.5L262.8 196.5L261.1 195.3L260.8 193.4L260.5 195.0L259.5 194.6L257.8 193.9L259.4 192.7L260.8 192.5L262.8 192.0L264.4 192.0L264.4 192.5L264.6 191.4L265.3 188.5L265.5 188.5L263.9 189.0L265.7 187.9L266.3 185.8L264.9 185.2L266.4 185.5L266.4 184.6L267.8 184.2L265.8 184.2L264.3 183.2L263.8 181.4L263.4 181.4L264.1 180.7L262.9 181.3L260.9 181.7L259.4 180.4L259.5 182.0L259.0 180.2L257.7 180.4Z" fill="#d1dade"/>
<path d="M342.5 250.8L344.2 251.7L344.2 255.0L342.5 254.2Z" fill="#d1dade"/>
<path d="M464.1 51.0L478.5 51.0L476.3 55.0L476.2 63.0L473.5 65.5L470.5 62.0L468.5 58.0L465.0 55.0Z" fill="#d1dade"/>
<path d="M490.3 51.0L492.3 51.0L491.3 52.8Z" fill="#d1dade"/>
<path d="M255.1 510.9L256.0 508.8L256.6 507.3L257.2 508.0L257.0 507.2L257.9 506.9L260.1 505.9L260.3 506.7L260.7 505.7L262.8 505.1L262.7 506.6L263.4 504.9L263.5 505.3L266.0 504.1L268.0 502.9L269.5 501.6L270.7 501.5L270.9 500.8L271.3 501.6L272.9 501.8L274.7 502.7L275.8 503.3L276.2 502.6L276.1 503.7L276.8 505.1L277.9 506.5L277.2 506.7L278.1 506.7L278.3 506.7L279.4 506.9L280.7 507.0L282.8 507.4L285.0 508.5L285.3 507.7L285.4 508.6L287.4 509.3L289.7 509.5L291.3 509.7L291.7 508.9L291.7 509.8L292.4 510.2L292.6 509.7L293.1 510.5L294.8 511.5L297.4 512.0L299.2 512.9L299.4 514.5L299.9 513.2L299.9 513.6L302.1 513.6L304.0 514.1L307.2 514.4L308.3 514.9L308.6 515.9L308.9 514.9L310.2 514.7L313.3 514.6L314.6 515.4L317.1 516.3L319.5 516.8L320.1 517.3L322.9 518.0L322.6 518.9L323.2 518.1L324.9 518.8L326.6 519.4L326.7 519.1L328.3 519.3L330.6 519.9L330.4 519.5L331.2 519.9L332.8 520.3L334.6 519.8L335.2 521.5L336.2 523.3L336.8 524.6L336.6 525.2L337.7 525.7L340.1 527.0L341.8 527.5L343.2 528.7L344.5 528.4L345.4 529.2L348.2 530.6L349.9 530.4L350.1 530.4L353.1 531.6L352.7 532.0L353.5 531.7L356.3 532.2L357.1 533.8L356.7 532.3L356.7 532.5L359.1 533.0L361.8 534.1L363.2 535.0L363.3 535.0L364.1 534.3L363.9 535.2L364.8 535.3L367.3 536.2L368.8 536.8L371.6 538.2L371.7 538.3L373.2 538.6L375.6 538.6L374.8 540.2L376.3 538.7L377.4 538.9L380.1 537.4L381.2 537.3L381.8 539.8L382.4 541.6L380.7 543.9L380.2 546.1L380.5 544.5L379.9 546.3L377.8 547.3L375.4 549.1L374.5 548.7L374.8 549.5L373.1 549.7L372.0 550.6L370.8 549.9L371.5 550.8L369.4 552.3L367.6 552.8L366.6 552.9L364.2 554.0L362.9 555.0L360.2 555.6L359.4 555.1L359.7 555.7L360.1 555.9L358.1 556.8L357.4 555.5L357.8 557.0L356.7 557.8L355.6 559.1L353.9 559.7L352.6 561.3L350.8 563.9L350.0 565.0L349.7 564.8L348.4 566.7L347.0 569.3L345.5 571.4L344.8 571.5L343.6 573.3L341.8 575.5L340.2 578.3L339.9 578.3L338.9 578.8L340.0 579.1L340.1 579.7L340.5 581.0L339.5 581.0L340.6 581.4L340.8 583.3L342.3 584.9L343.9 586.2L345.2 586.7L344.9 587.2L343.2 588.1L341.5 588.9L339.5 591.3L337.0 593.2L336.6 593.2L336.0 594.5L334.0 596.4L332.6 597.0L332.7 597.5L332.1 600.5L331.6 600.6L331.5 599.0L331.3 600.7L329.7 601.2L328.1 601.4L325.5 603.1L324.9 602.6L324.9 603.4L323.8 604.9L323.1 604.6L322.0 605.8L319.7 607.4L319.4 606.3L319.3 607.6L318.5 608.6L318.5 607.7L318.0 609.0L316.9 609.6L315.5 610.3L315.1 610.6L312.0 609.7L311.6 608.9L309.7 609.8L308.2 610.3L306.2 609.4L304.6 609.8L303.3 609.3L302.3 607.9L302.9 609.3L301.1 609.0L299.8 609.0L299.0 607.8L299.4 608.9L298.6 608.2L297.1 608.6L296.8 608.1L294.4 607.8L291.8 607.0L289.8 607.9L288.2 607.9L287.5 608.4L284.7 609.2L284.7 609.7L284.2 609.5L283.4 610.2L281.6 610.8L280.0 611.2L278.3 612.6L277.9 611.9L277.9 612.8L277.2 613.2L274.8 614.5L273.8 613.6L272.2 612.7L272.7 612.2L271.7 612.1L271.5 610.6L269.8 609.5L269.5 608.2L268.3 605.8L267.6 604.3L268.3 601.9L269.3 600.7L267.5 600.2L265.5 599.5L264.7 598.1L263.1 596.8L262.0 595.3L261.7 595.0L259.8 593.8L257.4 592.0L257.1 592.1L256.9 591.6L257.6 591.7L257.8 590.0L258.0 588.1L259.2 586.5L261.5 584.5L261.5 583.9L261.8 584.4L261.9 583.6L263.5 582.5L264.8 581.7L265.4 581.6L266.2 580.3L265.2 580.8L264.0 579.4L263.5 578.0L263.2 576.7L262.7 574.5L263.1 572.8L262.5 571.5L262.8 571.1L264.2 568.9L265.9 567.4L266.7 566.7L266.0 563.7L266.3 560.8L265.9 560.2L266.9 559.0L268.1 558.2L269.7 557.5L271.0 556.7L270.0 554.0L270.2 551.9L270.2 552.0L271.4 550.2L271.5 551.0L271.7 550.0L273.6 548.8L273.5 549.9L274.0 548.5L274.6 548.4L274.5 546.9L274.4 544.9L273.9 543.5L273.0 543.6L273.8 543.0L274.5 543.4L275.0 541.4L276.6 541.2L275.4 540.7L276.2 538.5L276.8 538.5L278.7 537.1L281.6 535.9L282.6 534.9L280.9 533.1L279.6 531.9L278.5 529.6L276.4 528.7L273.3 527.5L273.7 526.6L272.8 527.4L271.4 527.1L271.2 527.3L270.7 527.0L268.6 526.1L269.0 526.7L268.2 526.0L266.4 526.1L267.0 525.1L265.8 525.9L266.0 525.6L264.1 524.5L263.3 524.1L260.6 524.0L257.5 524.3L256.6 524.0L255.0 525.0L256.7 522.7L257.9 522.4L256.8 522.5L257.1 520.9L258.1 519.8L257.1 520.5L256.9 518.5L256.7 515.8L256.4 515.9L256.5 514.3L255.5 513.0L256.3 512.2L255.3 512.4Z" fill="#5aae61"/>
<path d="M371.0 579.0L378.0 574.0L381.0 576.0L379.5 580.0L376.0 583.0L372.0 581.5Z" fill="#5aae61"/>
<path d="M384.0 573.6L388.0 573.0L391.0 576.0L389.5 577.6L386.0 576.0Z" fill="#5aae61"/>
<path d="M366.0 582.5L369.0 580.5L370.5 583.0L368.0 585.5Z" fill="#5aae61"/>
<path d="M272.5 615.8L277.5 615.8L275.8 620.0Z" fill="#5aae61"/>
<path d="M435.0 563.3L438.2 563.8L439.3 564.3L439.7 564.7L439.6 564.0L440.8 562.7L443.3 560.7L444.1 560.3L445.6 560.5L448.6 560.7L449.0 563.8L449.1 565.1L450.3 566.7L449.3 569.5L448.4 570.1L449.2 570.0L449.4 572.8L449.4 573.3L448.8 576.5L448.4 578.1L448.4 580.6L448.2 581.7L448.2 583.5L448.0 585.9L446.5 586.1L447.9 586.3L447.5 588.1L446.2 587.9L445.1 588.2L443.1 588.1L442.6 588.3L441.9 589.9L441.6 589.2L441.6 590.5L439.8 592.3L438.1 592.5L439.4 592.9L440.0 592.6L439.8 592.9L439.4 592.5L438.3 592.4L436.7 591.7L435.5 589.9L434.6 588.4L434.4 586.7L434.6 584.8L435.5 582.6L435.9 581.7L435.4 579.4L434.7 576.2L434.3 575.0L434.3 572.7L435.2 570.2L435.0 570.0L433.4 568.6L432.7 566.9L433.9 564.3Z" fill="#5aae61"/>
<path d="M446.5 535.0L447.3 541.0L447.5 548.0L446.0 555.0L444.0 558.0L441.0 555.0L438.5 550.0L437.3 544.0L438.5 540.0L442.0 538.5L444.6 538.5L445.5 535.0Z" fill="#4472b8"/>
<path d="M478.2 604.7L479.8 603.9L481.7 603.3L483.2 602.6L485.1 602.4L486.6 602.1L488.1 602.5L489.6 603.0L492.5 603.6L493.4 604.6L496.0 603.8L498.2 603.6L499.9 602.7L499.9 602.7L502.4 602.2L505.0 602.0L506.6 601.4L508.9 600.8L511.7 599.9L512.6 598.9L513.6 599.9L513.8 599.9L513.4 602.7L512.9 604.8L512.2 603.6L512.6 605.4L512.7 606.4L511.6 608.0L511.1 607.2L511.4 608.3L510.8 610.0L511.5 609.7L510.7 610.7L510.5 612.5L510.1 614.8L508.8 614.0L510.0 615.3L510.0 615.0L511.1 617.9L511.5 618.2L510.3 620.6L509.9 619.1L510.0 621.2L510.0 620.8L508.3 620.7L506.0 619.2L505.7 619.7L505.5 619.1L505.2 618.8L503.2 618.4L501.0 616.7L500.2 617.3L500.6 616.5L499.2 616.5L498.4 615.7L497.3 614.8L495.9 614.0L493.6 613.3L491.8 611.4L490.4 610.9L490.7 610.0L489.8 610.8L487.3 610.3L485.0 610.0L484.2 610.4L484.3 609.7L483.9 609.6L481.6 608.2L480.0 607.9L479.7 607.7L478.5 606.0Z" fill="#5aae61"/>
<path d="M343.7 303.1L346.5 304.7L347.5 304.9L349.9 305.9L350.7 307.1L350.6 306.0L351.1 306.2L352.6 305.9L352.6 305.4L353.0 305.9L354.2 305.2L356.3 306.2L357.3 305.8L358.4 307.6L357.1 309.7L356.0 311.3L354.7 311.5L354.4 312.3L352.4 314.5L350.6 312.6L352.0 314.8L351.6 314.2L350.7 315.8L349.0 316.2L349.8 316.4L348.5 316.6L348.0 317.3L346.7 318.1L344.7 317.5L346.4 318.3L346.1 318.2L345.3 319.8L344.6 318.4L345.2 320.1L345.3 320.4L347.9 319.6L349.0 319.1L350.8 319.3L351.6 319.5L353.9 319.9L353.1 320.6L354.4 319.9L355.5 320.0L355.9 320.3L358.4 320.2L358.8 319.9L359.0 320.3L359.9 321.0L360.4 320.3L361.6 320.9L363.1 321.9L364.1 324.2L364.9 324.5L364.0 324.6L363.0 325.8L362.2 324.5L362.8 326.4L362.3 327.5L361.5 327.7L362.0 328.0L361.5 330.6L360.5 330.8L359.5 334.0L358.7 333.6L356.8 335.5L356.3 336.2L353.5 337.4L353.5 337.2L351.6 337.2L350.8 337.4L353.3 339.1L354.2 339.3L352.3 341.6L351.7 341.4L350.1 341.5L347.6 341.5L347.4 342.2L345.9 341.8L345.4 341.0L347.0 342.0L345.7 343.0L347.7 342.3L348.8 342.7L349.2 342.8L352.2 342.7L352.7 342.0L354.3 342.6L355.2 343.2L356.8 345.7L357.8 345.2L357.5 346.6L358.0 348.3L358.6 348.0L358.3 349.0L359.0 348.6L357.2 349.7L359.3 349.2L359.4 351.6L360.3 352.2L359.6 352.6L360.5 352.5L361.0 353.3L361.0 355.5L361.0 357.5L361.0 358.8L361.8 360.0L363.2 362.7L364.1 365.7L364.9 366.8L362.7 367.2L365.3 367.3L365.6 368.2L368.1 370.4L368.7 371.8L370.0 373.5L369.5 375.9L369.6 377.0L367.7 378.5L369.7 377.7L370.4 377.4L370.4 380.2L371.7 383.1L372.0 383.2L371.7 385.1L371.9 387.3L372.6 388.2L375.5 389.1L376.7 390.0L378.0 390.8L380.4 391.6L380.9 392.4L381.9 394.6L382.4 395.7L382.5 396.6L382.9 398.9L381.3 401.5L382.0 402.0L379.8 404.2L378.9 405.0L377.0 403.9L378.5 405.4L377.5 405.4L378.5 405.8L377.1 405.8L377.6 405.9L375.8 407.3L375.1 405.3L375.1 407.7L373.2 407.8L373.1 405.6L372.8 408.1L372.9 408.6L374.6 408.5L373.2 408.9L375.2 410.2L373.5 412.0L375.5 410.5L376.1 412.1L375.0 412.5L376.6 412.7L376.7 412.5L376.5 414.7L376.9 414.4L376.5 415.3L376.7 415.7L375.7 415.0L376.0 416.1L374.1 417.6L372.8 415.3L373.7 417.8L372.0 418.1L371.8 418.9L368.8 419.1L366.1 419.2L366.2 419.8L365.3 419.3L365.0 419.0L362.5 419.6L360.3 419.2L358.6 419.5L358.4 419.6L355.5 418.6L353.2 418.0L350.7 419.3L348.7 419.7L348.3 419.1L349.5 416.6L347.7 418.9L346.0 418.7L343.3 418.1L340.7 417.3L340.0 418.3L340.2 417.2L339.3 418.0L338.3 417.8L336.0 417.1L333.8 416.2L333.5 417.2L331.1 418.4L329.5 418.6L329.8 419.6L328.8 419.0L328.3 419.2L326.6 420.1L324.4 420.9L322.9 421.9L322.2 421.3L322.4 422.0L321.7 421.4L320.6 422.7L320.9 421.4L319.7 421.7L318.0 421.7L315.3 421.7L315.1 421.6L314.3 422.5L314.9 421.4L313.1 420.4L313.3 420.0L315.2 418.5L317.4 417.7L319.0 415.3L319.5 417.9L319.4 415.1L320.1 415.2L322.0 413.7L323.0 412.4L325.9 411.2L326.7 411.6L326.4 410.8L326.7 410.0L327.1 411.0L327.2 409.7L326.7 410.0L326.5 411.4L327.0 409.9L328.1 410.0L330.6 408.6L332.4 408.9L333.4 408.9L335.6 408.1L337.5 407.1L336.3 406.2L338.1 407.0L339.7 407.0L339.8 406.2L341.7 407.1L340.4 405.9L342.2 405.3L342.4 406.8L342.5 405.1L343.3 404.9L340.3 404.0L338.3 404.4L336.3 404.0L334.7 404.9L333.2 405.1L332.1 404.1L330.3 402.6L329.0 401.8L328.0 402.2L326.4 400.3L324.5 398.7L323.5 399.2L324.2 398.5L323.8 398.2L325.2 396.7L323.6 397.6L322.6 396.8L322.5 395.3L324.4 395.3L326.5 394.5L328.6 394.6L330.7 392.5L332.9 390.9L333.3 387.7L333.6 386.4L331.6 385.6L330.7 384.1L330.1 383.6L331.2 383.5L331.5 383.2L331.1 382.0L331.7 382.9L333.2 381.9L333.7 380.7L334.8 381.1L334.1 380.2L333.9 381.0L333.6 379.4L332.2 377.6L331.6 377.9L333.4 378.2L335.6 378.5L333.7 380.3L336.1 378.7L336.7 378.9L339.3 379.2L339.4 380.9L339.9 379.3L341.7 379.4L342.1 380.8L342.2 379.5L343.7 380.4L344.6 378.1L346.0 377.9L346.2 376.8L345.8 374.2L346.4 371.9L345.6 371.6L346.9 370.0L349.4 369.6L347.1 369.4L347.3 368.5L347.0 366.6L347.7 366.5L345.3 365.2L344.6 362.9L343.6 363.4L343.4 360.7L342.8 358.7L343.1 358.0L344.5 357.0L345.0 356.9L342.4 356.5L342.2 354.3L341.8 356.4L340.1 356.0L339.0 356.7L339.0 358.0L338.5 356.9L336.0 357.3L336.6 357.7L335.6 357.5L336.0 357.1L333.9 356.3L332.6 355.7L332.5 356.8L332.3 353.9L331.8 354.0L333.1 354.7L332.0 353.7L333.1 352.5L333.5 352.3L333.8 354.6L333.8 352.0L334.7 350.4L335.6 350.1L337.0 348.2L335.3 346.1L336.4 346.7L335.4 345.6L336.6 343.2L337.2 343.6L339.2 345.3L337.6 343.1L338.2 342.2L338.5 341.0L338.4 338.5L338.1 340.9L336.3 340.1L336.8 341.1L336.0 340.0L336.0 340.0L334.7 338.8L334.4 338.7L334.8 337.5L336.0 336.7L336.4 336.4L335.0 334.5L335.2 334.2L337.4 332.6L334.9 333.8L333.5 332.8L335.6 330.9L335.9 331.2L337.0 329.4L337.3 328.8L334.3 328.2L336.0 326.8L333.7 328.1L333.7 328.0L332.9 327.1L332.5 325.7L331.5 324.9L332.8 325.4L333.6 324.1L334.0 326.7L334.1 323.5L334.6 323.6L336.9 323.1L334.5 323.3L333.0 320.9L334.2 318.1L333.5 317.8L334.7 317.5L336.3 316.5L335.2 314.3L337.5 315.5L335.8 313.8L337.3 313.0L337.4 314.4L337.6 312.7L339.3 310.8L339.8 311.0L340.0 309.5L338.6 310.1L340.2 308.8L340.6 308.5L341.0 305.7L341.4 305.8L342.6 306.2L341.7 305.5L342.2 304.5Z" fill="#5aae61"/>
<path d="M326.6 305.8L329.5 305.0L330.6 304.6L331.9 303.0L333.3 302.7L334.4 302.4L333.5 302.6L334.3 303.1L333.8 304.6L333.3 307.2L332.6 307.9L330.6 309.2L329.5 309.2L327.4 310.0L326.6 308.7L326.5 305.8Z" fill="#5aae61"/>
<path d="M321.9 313.0L324.1 313.4L323.6 316.4L322.4 319.8L320.9 320.7L321.1 317.3Z" fill="#5aae61"/>
<path d="M327.5 316.4L330.0 315.1L332.2 316.4L334.3 318.5L333.4 320.7L330.9 319.4L330.0 321.9L328.3 319.8Z" fill="#5aae61"/>
<path d="M325.8 328.8L328.3 327.9L331.3 329.2L333.0 331.7L330.4 332.6L328.3 333.5L326.2 332.2Z" fill="#5aae61"/>
<path d="M323.2 341.1L325.3 339.4L328.3 338.1L330.4 336.9L329.6 339.4L327.0 342.0L324.9 343.2L323.6 342.8Z" fill="#5aae61"/>
<path d="M330.9 337.7L332.6 336.4L333.4 338.6L332.6 342.0L330.9 345.4L329.2 347.5L327.9 347.1L329.6 343.7L330.4 340.7Z" fill="#5aae61"/>
<path d="M356.4 300.6L357.7 298.1L360.3 296.0L362.8 296.8L363.2 298.5L361.1 299.8L361.5 301.9L359.4 303.6L357.7 302.8Z" fill="#5aae61"/>
<path d="M332.5 365.0L335.8 362.5L336.7 364.2L334.2 367.0Z" fill="#5aae61"/>
<path d="M314.3 343.6L316.7 344.8L316.0 345.5L317.0 345.3L317.4 347.1L317.7 347.4L320.8 347.1L321.0 347.6L322.7 348.7L322.1 349.0L323.0 348.9L323.7 349.3L323.1 350.2L323.9 349.9L324.5 350.6L323.7 350.5L324.6 351.1L325.4 352.6L325.5 353.8L326.1 355.7L326.7 357.4L327.6 358.5L327.2 358.9L326.9 360.0L326.9 362.1L325.0 362.9L323.9 362.5L324.8 363.1L324.5 363.8L323.4 364.1L321.7 364.7L321.2 364.5L319.1 364.5L318.3 367.2L317.5 366.7L318.2 367.6L319.0 367.4L318.9 370.8L319.6 370.9L318.7 373.8L318.6 375.2L317.9 376.8L318.1 378.3L317.3 379.3L316.8 381.9L316.6 383.6L316.7 383.9L315.4 385.5L314.3 386.7L312.4 389.2L312.6 389.5L310.1 388.3L310.0 388.2L308.9 388.2L306.5 388.1L304.3 388.7L303.2 389.3L300.2 390.2L298.9 391.2L296.4 390.4L295.7 390.2L294.7 391.3L292.9 392.0L290.1 393.4L290.4 394.1L289.5 393.7L289.6 393.7L286.4 393.6L285.3 393.3L283.7 392.8L281.1 393.8L281.4 393.6L282.1 391.6L281.9 391.3L280.1 390.5L278.5 390.1L279.6 388.6L279.7 388.0L278.7 387.0L277.5 385.8L278.1 385.5L278.5 383.6L278.4 381.7L281.3 381.0L281.9 380.8L283.8 380.0L285.2 379.7L284.1 378.5L283.5 376.5L286.6 376.7L287.1 376.2L287.8 375.6L287.8 376.5L288.1 376.7L288.3 377.4L288.6 376.8L289.6 377.1L290.4 377.8L290.1 379.2L290.9 377.9L292.9 378.3L293.9 378.1L292.3 376.9L291.3 376.2L289.2 375.2L288.1 375.3L288.7 373.4L289.0 371.4L288.6 371.3L289.3 371.3L290.4 370.5L291.6 370.4L294.4 370.8L293.8 371.4L294.8 370.9L295.1 370.6L293.6 369.6L294.8 369.3L293.0 369.1L292.9 368.9L290.4 367.4L289.2 367.4L287.2 366.4L285.8 365.2L285.3 364.5L286.5 362.4L286.9 361.4L288.2 360.9L289.8 359.9L289.9 358.5L289.3 357.1L289.1 356.8L288.9 354.9L288.3 354.7L290.0 353.6L290.9 353.3L292.7 353.2L294.6 353.4L294.6 353.5L293.9 354.0L295.2 353.8L296.0 354.0L298.2 354.9L300.4 356.1L301.9 356.6L302.3 354.6L303.9 353.5L304.1 353.0L302.5 351.5L301.4 350.8L302.5 350.2L303.1 349.5L304.0 348.4L304.9 346.8L305.7 345.8L305.3 345.4L306.4 345.7L307.7 345.8L310.0 345.0L313.0 345.3L312.9 344.8Z" fill="#5aae61"/>
<path d="M386.5 418.9L385.8 418.6L386.9 418.6L388.2 417.9L390.6 416.1L391.6 415.6L393.0 416.6L391.8 415.4L394.1 413.9L395.7 412.4L397.4 410.4L396.9 409.7L397.8 410.0L398.1 409.9L399.2 410.0L398.3 409.6L400.3 408.0L401.1 406.2L401.8 405.9L402.6 404.6L403.7 402.2L404.0 402.9L404.0 401.7L404.9 400.0L406.4 397.3L407.1 395.1L407.3 394.1L408.4 392.7L409.2 391.9L410.8 390.5L410.6 389.6L412.4 389.0L413.7 388.1L414.7 389.1L414.3 387.9L415.1 388.1L415.9 387.8L417.5 387.0L420.7 386.3L421.7 386.0L424.4 384.9L426.6 384.5L427.5 384.5L429.5 383.9L432.4 384.0L433.0 384.6L433.2 383.9L433.6 383.4L435.1 385.3L435.1 385.9L435.5 385.7L435.8 386.4L437.5 387.3L437.7 387.7L438.7 386.1L439.7 385.4L439.1 385.4L440.0 385.1L440.4 383.8L440.8 383.5L442.3 382.8L443.8 382.2L444.1 382.5L443.8 380.8L444.7 380.4L443.7 380.1L443.5 378.0L443.0 377.4L443.9 376.1L444.4 373.5L445.3 373.2L444.5 373.1L444.5 372.5L443.9 370.5L444.4 370.0L443.9 370.1L444.2 369.4L446.3 369.3L448.8 368.8L448.9 369.5L451.1 370.7L450.8 371.8L451.6 371.3L452.0 372.2L452.4 372.6L454.4 373.7L455.9 375.4L458.8 374.4L461.2 374.3L460.6 375.9L461.1 375.7L460.5 376.6L460.1 377.4L460.1 379.5L461.5 379.3L464.1 378.2L464.9 378.1L466.4 377.7L467.4 377.9L466.8 377.5L468.4 376.4L470.0 375.1L471.7 374.6L474.5 373.9L474.9 374.0L475.1 374.6L475.5 373.6L477.2 373.4L478.1 373.6L477.8 373.0L478.6 372.1L479.5 371.5L480.7 374.1L482.5 375.8L484.4 377.6L486.7 379.3L489.0 379.4L490.6 379.7L492.9 378.7L495.1 377.9L496.1 376.9L496.1 378.3L496.8 376.5L496.9 376.9L497.6 375.7L497.8 376.3L498.3 375.2L499.8 374.9L501.4 373.9L503.4 372.6L504.5 371.7L503.7 370.9L504.8 371.5L506.0 371.0L507.5 370.1L507.7 370.7L508.1 369.7L509.6 368.9L510.4 369.9L510.1 368.7L509.9 369.0L509.7 369.7L510.4 368.7L512.0 367.6L514.0 366.4L515.2 366.0L515.3 366.6L515.5 365.8L515.7 365.4L517.7 365.2L519.4 364.8L520.9 364.9L521.3 366.4L522.6 367.9L523.3 369.6L526.6 369.1L528.2 369.1L529.1 368.0L531.7 366.2L532.4 366.1L534.6 365.8L536.0 366.9L537.5 366.5L540.4 367.7L541.7 367.6L541.6 368.5L542.0 367.6L544.1 367.0L547.1 367.4L547.1 366.7L547.9 367.4L548.3 367.5L549.2 368.9L548.7 367.5L549.4 366.9L550.0 367.0L552.5 367.1L553.6 366.5L555.7 366.7L555.7 366.7L558.7 367.3L560.9 367.3L561.4 367.7L563.7 369.7L564.1 370.9L565.2 372.4L566.1 374.1L566.6 376.7L566.9 378.3L567.9 379.4L568.8 382.0L569.5 383.4L568.3 385.7L567.2 384.8L568.1 386.3L567.7 387.3L567.7 389.3L566.0 391.6L565.2 394.0L565.3 395.1L565.5 394.3L567.3 395.7L568.2 397.0L569.3 397.5L569.5 399.4L570.0 402.5L569.0 403.5L570.2 403.2L570.6 404.5L571.7 404.6L570.8 405.2L571.8 407.5L571.6 408.4L572.7 410.2L574.6 412.2L576.1 413.4L575.8 416.1L575.0 417.6L574.7 418.1L573.8 420.1L572.5 422.6L571.7 423.3L570.5 425.0L569.6 427.4L568.6 430.1L568.1 429.9L567.3 432.7L566.4 431.3L567.2 433.1L566.9 434.2L567.3 435.8L566.8 436.7L567.3 439.4L567.4 440.0L567.4 441.4L565.7 440.8L567.3 441.8L566.5 444.1L565.5 444.9L564.7 447.4L564.2 449.4L563.9 450.2L565.5 451.2L565.5 452.7L566.9 453.7L567.7 453.8L567.2 454.3L567.5 455.5L568.4 456.9L570.3 456.0L571.3 455.3L573.4 454.6L573.2 455.5L573.9 454.5L575.0 453.4L577.1 452.9L579.2 452.5L580.0 452.5L581.4 452.6L584.1 452.8L586.5 452.4L586.7 452.7L588.4 452.6L590.2 453.3L591.8 453.1L593.2 453.2L593.2 453.1L593.4 454.8L593.7 452.8L594.9 452.0L596.9 450.9L598.0 450.1L598.3 450.1L600.4 447.8L602.5 447.1L603.2 445.6L605.0 444.4L607.3 443.5L608.7 444.1L611.1 445.9L611.6 446.8L613.3 448.6L614.8 450.2L616.3 451.5L616.8 452.4L617.6 453.5L619.8 455.7L621.2 458.1L621.1 458.8L621.7 458.6L621.6 458.4L622.6 459.3L623.5 460.9L624.6 462.5L624.2 463.0L624.9 462.9L625.7 464.3L625.8 465.0L627.0 467.3L627.2 468.8L628.5 471.6L629.7 474.5L630.8 476.6L629.7 477.2L631.3 476.9L633.4 478.4L634.5 479.2L635.0 479.2L636.5 479.2L639.1 477.4L639.9 477.2L642.2 476.6L643.8 476.2L644.2 475.9L646.3 475.4L649.3 475.4L651.3 475.8L651.8 475.8L651.6 478.9L651.7 481.8L651.6 484.6L651.4 487.0L651.6 488.8L651.3 491.6L651.4 493.9L651.8 496.6L651.9 499.8L651.7 500.8L649.7 501.0L647.9 500.6L645.9 500.8L643.1 500.6L640.1 500.7L639.2 500.6L636.9 500.1L634.4 499.9L633.3 499.2L633.0 497.8L632.6 499.3L630.7 499.8L630.1 499.4L630.3 499.8L627.5 499.5L626.8 500.4L625.0 500.0L625.1 498.2L624.4 500.1L624.0 501.2L622.1 501.6L619.9 501.4L618.5 502.9L616.3 503.4L615.9 502.8L615.8 503.7L615.0 504.2L612.1 505.5L610.2 506.2L610.0 505.7L609.5 506.5L610.1 507.0L608.7 506.9L608.5 507.6L608.1 507.1L606.8 508.0L605.2 508.4L603.8 508.7L603.3 509.2L601.5 509.6L598.7 510.1L596.7 510.3L594.6 510.2L592.7 510.8L590.0 511.0L588.6 510.7L586.9 510.7L584.5 509.7L584.3 509.8L585.6 509.0L583.9 509.6L582.7 509.6L580.2 508.0L580.1 508.2L578.2 507.1L578.0 506.8L577.3 504.2L576.7 503.3L575.1 502.3L572.6 501.4L570.9 501.1L570.8 499.4L570.6 501.0L570.6 501.1L569.5 499.7L568.4 499.2L567.1 498.3L566.4 497.7L565.7 495.8L566.2 495.4L565.3 495.3L564.3 495.2L563.9 493.6L563.1 493.6L561.0 491.3L559.0 489.9L559.5 488.7L558.4 489.5L558.3 489.2L556.1 487.4L555.6 488.0L555.6 486.9L554.9 485.9L554.2 485.1L552.2 485.7L548.9 485.5L548.2 485.5L546.2 486.7L543.9 487.7L542.6 488.5L543.5 489.0L542.3 488.7L541.3 488.8L540.5 489.6L539.2 489.8L537.9 490.3L536.7 490.4L534.5 490.5L534.2 490.9L532.0 490.2L532.0 489.3L531.3 490.1L529.5 490.3L528.3 490.0L527.2 489.4L525.9 489.0L524.0 487.8L523.2 487.6L521.4 486.3L520.4 484.8L520.1 484.7L518.6 483.9L519.2 483.3L518.1 483.6L516.0 483.4L516.5 483.2L515.6 483.2L515.2 482.8L513.1 483.1L512.2 484.4L509.8 485.6L509.2 486.9L507.0 487.6L506.5 488.2L506.0 491.4L505.1 493.5L503.8 494.2L503.2 492.7L503.3 494.4L502.3 494.5L503.3 494.9L501.7 494.8L500.8 495.3L500.0 495.9L497.5 496.7L495.9 497.8L495.0 498.6L492.6 497.6L491.5 497.7L490.8 497.7L489.4 497.8L488.0 497.8L487.7 497.2L487.6 497.8L486.7 497.4L484.2 497.2L482.7 497.9L481.9 497.8L478.9 499.2L477.7 499.7L477.0 500.9L475.3 503.0L474.3 505.5L474.0 505.8L474.2 507.0L475.0 508.8L476.1 511.5L476.0 511.8L475.3 514.6L474.0 515.8L472.7 514.9L473.9 516.2L474.0 516.9L476.9 518.5L477.4 518.3L477.5 518.9L477.7 519.7L478.5 519.7L480.1 521.7L482.4 523.2L483.5 523.0L485.6 525.4L485.0 525.6L486.2 525.7L487.8 526.6L488.3 526.7L489.8 528.9L489.1 528.8L490.1 529.3L490.5 530.4L491.5 531.4L491.4 532.6L491.8 533.6L492.1 535.1L492.6 534.9L493.7 536.5L495.4 538.8L496.9 540.6L499.3 542.9L500.6 544.3L501.2 545.9L501.6 546.1L503.9 546.6L504.5 546.0L504.3 546.8L506.1 547.6L507.4 547.9L509.3 548.5L509.6 549.4L509.6 548.4L511.6 548.1L511.5 547.7L511.9 548.1L513.4 547.8L514.0 547.6L514.5 547.5L514.5 548.2L515.9 550.3L516.5 550.6L515.1 552.2L514.2 553.2L516.8 554.9L515.3 555.4L517.4 555.2L518.1 555.5L518.4 555.6L519.9 556.4L522.6 558.1L523.5 558.8L524.8 558.8L525.2 558.9L526.2 560.1L528.6 560.5L530.3 562.1L531.8 562.2L534.3 564.1L534.8 563.1L534.8 564.3L535.6 564.4L536.6 565.2L539.0 566.8L540.3 567.1L540.8 567.5L539.5 567.8L541.3 567.9L543.2 568.8L544.0 569.9L544.0 571.3L542.9 572.1L542.7 573.3L542.6 573.9L540.3 573.1L538.6 570.7L537.7 568.9L538.5 568.0L537.2 568.7L534.6 567.8L533.3 566.6L533.2 565.1L532.9 566.5L531.3 566.1L529.4 565.7L529.4 566.4L529.1 565.7L528.4 565.9L527.3 566.4L526.1 567.5L525.3 568.9L525.4 569.3L524.1 571.3L523.5 573.5L523.2 574.2L524.0 577.0L524.1 578.6L524.9 578.1L524.4 578.7L526.2 579.7L528.2 580.8L529.1 580.9L530.0 582.7L530.6 583.9L530.9 583.6L531.0 584.5L531.8 585.1L530.8 587.8L529.6 589.9L528.9 589.7L529.3 589.8L528.5 590.0L527.3 592.0L525.9 593.3L525.4 594.4L523.8 596.8L524.4 596.8L523.4 597.3L523.0 597.3L523.0 598.9L521.2 601.4L520.8 601.6L518.6 602.6L516.3 603.5L516.0 601.6L514.6 599.9L515.4 598.5L516.8 595.6L517.1 595.2L518.5 592.3L518.2 591.6L519.7 590.7L520.4 590.1L521.4 589.3L520.3 589.4L520.5 586.9L520.0 585.8L519.1 584.5L520.2 583.3L518.9 584.1L517.8 582.0L517.1 581.0L516.2 579.4L516.1 578.1L516.8 576.8L515.9 577.8L513.9 576.0L513.5 576.8L513.6 575.6L513.9 576.1L513.3 576.4L513.6 575.9L512.1 573.7L510.2 572.2L509.0 571.8L506.5 570.5L506.2 569.8L507.4 569.7L505.8 569.2L504.7 568.2L503.8 567.2L503.3 565.9L500.8 565.4L499.0 565.2L498.7 563.9L497.2 563.0L496.3 561.5L495.0 560.8L492.8 559.3L490.0 558.3L488.7 557.1L486.4 555.7L485.1 554.8L485.1 554.9L482.5 553.3L481.9 551.9L481.4 552.6L481.4 551.4L480.3 550.5L478.0 549.1L476.5 548.0L475.6 547.3L475.1 546.5L473.8 545.4L473.5 545.5L473.3 545.1L471.5 544.5L472.2 543.9L471.1 544.3L470.6 543.2L469.9 543.5L468.3 542.2L466.5 540.0L465.2 538.9L463.7 537.6L462.5 536.9L461.2 535.8L460.0 535.0L458.8 533.0L458.7 531.7L457.6 530.0L457.4 530.0L456.7 527.6L455.5 524.7L454.8 524.3L454.3 523.1L455.8 523.7L454.2 522.8L453.7 520.2L453.0 519.8L451.6 521.8L451.5 520.3L451.0 521.4L450.0 520.6L448.7 519.6L446.8 517.9L443.8 517.5L444.3 515.8L443.3 517.3L442.3 516.8L439.9 515.5L438.9 516.5L436.1 518.1L434.9 518.4L433.1 518.9L431.8 517.8L432.6 519.2L431.6 520.4L428.8 521.8L427.4 522.3L425.1 523.2L423.5 521.1L423.8 519.7L423.0 520.4L422.4 519.7L422.0 518.3L422.2 516.5L422.2 514.7L422.6 511.7L421.2 509.2L419.2 507.5L418.9 506.5L420.6 504.9L421.5 503.1L422.2 501.8L421.7 498.6L421.4 496.4L420.6 495.7L421.6 492.9L421.6 491.9L419.3 491.0L416.6 490.2L414.8 489.5L415.0 488.3L414.4 489.4L413.9 488.9L416.3 487.5L417.4 486.9L419.7 485.6L421.2 485.3L423.4 483.8L425.7 482.1L425.9 482.0L425.5 480.8L425.5 479.3L425.4 477.3L426.2 477.6L425.3 476.6L424.6 474.3L424.3 472.5L424.3 470.5L423.9 470.0L424.5 467.8L425.1 466.5L426.0 464.8L426.6 461.8L427.3 459.7L427.0 458.3L428.0 456.7L428.1 455.9L426.8 455.0L424.6 454.3L424.7 453.4L424.1 454.0L421.7 453.2L419.9 452.2L419.1 451.3L416.7 450.4L416.8 450.7L416.3 450.1L415.0 449.7L412.4 448.5L411.5 447.7L412.2 446.1L410.8 447.3L409.7 447.4L407.4 445.1L404.9 443.8L403.3 442.4L401.8 441.1L400.4 439.8L400.1 439.9L398.9 439.4L398.6 439.8L398.3 439.0L397.2 438.0L396.4 436.3L394.9 435.4L393.8 434.5L392.4 433.5L391.7 433.3L390.8 431.9L389.9 430.7L387.7 428.7L386.4 426.6L384.7 424.8L384.0 424.0L384.7 422.0L386.6 420.0Z" fill="#5aae61"/>
<path d="M374.0 281.0L376.0 280.0L376.5 284.0L375.0 288.0L373.8 285.0Z" fill="#5aae61"/>
<path d="M255.2 525.3L256.7 524.6L259.2 524.4L261.5 523.5L263.5 523.4L265.8 525.7L265.7 526.2L267.8 526.4L270.0 526.4L271.1 526.6L273.4 527.3L274.8 527.8L275.5 527.4L275.1 528.0L275.6 528.8L276.8 529.4L278.5 529.8L279.8 531.7L281.6 534.4L282.5 534.9L281.3 535.6L279.3 536.3L278.2 537.1L277.2 536.1L277.5 537.4L276.5 538.2L275.1 538.4L276.3 538.6L275.9 539.3L275.1 539.5L275.7 539.7L276.0 540.7L275.0 542.7L275.7 543.1L274.8 543.1L274.4 543.3L274.7 544.8L274.7 546.6L275.0 548.3L274.7 547.6L274.4 548.7L272.5 550.2L270.9 550.9L270.9 550.0L270.2 551.3L269.7 551.7L270.1 553.0L270.5 556.1L270.8 556.7L268.7 558.4L266.3 560.1L265.6 560.0L266.0 562.0L266.5 563.8L265.3 563.2L266.6 564.5L266.8 565.8L267.0 567.0L265.2 567.8L263.2 570.4L262.8 570.8L263.4 570.0L262.9 571.2L262.4 572.2L263.2 571.9L262.5 572.6L263.2 574.4L263.2 576.4L263.2 576.7L263.6 578.4L264.2 578.1L263.8 579.0L264.8 581.2L264.7 581.3L263.1 583.0L261.7 584.2L259.8 586.2L258.9 587.9L258.3 588.3L257.9 591.4L257.3 591.4L256.3 592.6L254.2 594.0L252.9 594.5L252.4 594.3L252.4 594.8L251.8 594.9L250.5 594.2L248.8 593.1L246.8 592.3L245.2 592.4L243.8 591.8L244.8 590.6L243.5 591.7L242.4 590.9L241.1 590.9L241.5 589.2L242.1 587.4L243.0 586.1L243.4 584.8L244.6 583.4L244.2 581.9L244.7 579.7L245.9 576.9L246.4 577.4L246.0 576.4L246.2 573.7L246.8 573.0L247.7 571.9L246.5 572.9L244.1 571.3L244.8 570.3L243.7 571.1L242.6 570.6L242.5 570.8L241.2 568.0L240.1 566.6L239.5 565.2L241.1 564.7L239.8 564.6L239.6 563.6L239.3 563.0L239.9 562.9L241.1 562.1L241.5 559.9L242.6 558.4L244.6 556.3L244.4 555.9L244.8 556.1L246.2 555.3L247.2 553.8L248.7 553.5L249.0 551.5L250.5 549.1L250.0 548.2L250.7 548.8L251.5 547.1L252.1 546.8L252.5 545.5L252.6 542.5L253.4 540.9L253.4 539.5L254.6 538.4L254.8 536.5L256.2 536.6L254.9 536.0L254.9 534.3L254.8 533.1L256.4 533.2L254.9 532.4L255.7 532.0L256.0 530.0L256.6 529.1L255.9 529.2L255.3 526.9Z" fill="#d9312b"/>
<path d="M383.5 419.4L381.4 420.8L379.0 422.4L378.5 423.4L379.0 423.7L378.2 424.0L377.8 424.8L376.6 423.5L377.5 425.4L377.2 425.9L376.1 426.8L375.5 428.2L374.0 427.5L375.3 428.6L376.0 428.4L374.4 428.3L375.8 428.8L373.8 430.9L373.3 432.4L372.0 432.7L370.4 432.6L368.5 433.4L368.2 432.9L367.3 434.0L364.1 434.7L363.1 434.9L361.9 437.0L361.4 438.4L360.0 440.1L358.2 440.1L359.1 438.8L357.6 440.0L355.7 439.0L355.1 438.8L352.8 438.1L350.8 438.0L349.6 437.5L350.0 434.7L349.8 433.5L350.0 433.6L350.6 432.8L349.3 433.6L347.8 433.5L345.6 433.1L346.0 432.4L344.8 433.1L345.1 433.3L344.7 436.3L344.0 437.9L344.6 438.5L343.9 438.5L343.9 438.4L344.7 439.9L345.8 442.8L345.4 443.4L345.9 443.2L345.7 444.1L344.9 443.2L345.4 444.3L344.6 445.1L342.5 445.8L343.7 444.9L341.9 445.5L341.4 445.4L341.2 443.9L341.0 445.3L338.9 444.6L339.0 443.6L338.5 444.5L338.3 444.2L337.1 443.7L334.6 442.5L333.3 442.5L332.1 442.2L330.2 442.7L328.8 442.9L329.5 441.4L328.2 442.9L328.3 442.4L326.1 443.0L324.6 443.5L323.3 443.1L320.6 443.3L318.7 443.3L318.5 443.6L316.4 444.5L314.9 445.9L316.0 448.2L317.7 450.1L316.8 451.8L316.6 452.9L316.5 453.8L316.9 453.0L319.0 452.9L321.6 454.4L322.6 455.3L324.2 455.7L326.4 457.0L326.8 457.3L327.9 458.3L330.2 459.0L331.7 460.0L333.4 461.8L334.7 463.3L336.2 464.9L336.4 468.1L335.8 469.1L336.6 468.7L337.4 469.5L337.5 470.9L337.6 471.6L336.1 471.6L337.8 471.9L338.3 473.0L338.8 474.5L340.3 477.3L339.8 478.5L340.6 477.9L341.0 477.4L339.6 477.9L341.3 477.8L342.4 479.9L343.4 481.5L344.6 483.3L345.3 483.4L344.6 483.7L344.8 484.5L344.5 487.1L344.4 488.5L344.8 490.0L344.8 492.3L344.5 493.8L343.4 495.9L343.3 496.7L341.9 499.4L341.5 502.0L340.1 504.7L340.1 505.0L338.8 508.0L338.0 507.5L338.6 508.6L338.7 510.5L337.4 512.5L337.5 513.3L336.1 515.7L336.0 517.0L334.7 519.0L334.8 520.5L334.5 520.5L335.4 521.8L336.3 524.0L337.6 524.7L337.4 525.2L339.8 526.1L341.4 527.2L343.3 528.3L342.4 529.6L343.9 528.6L345.5 529.9L347.7 530.0L349.6 531.6L350.1 531.5L352.8 532.4L352.1 533.1L353.3 532.5L354.7 532.9L356.6 533.6L358.6 533.6L361.2 534.9L363.2 535.3L363.5 534.9L363.9 535.6L364.8 535.7L366.5 535.8L366.8 536.0L368.4 536.8L370.0 536.7L370.1 535.9L370.8 536.9L371.8 537.1L374.0 538.1L377.2 538.8L378.3 539.1L380.9 538.3L381.0 536.1L381.5 535.0L381.8 533.4L381.7 533.3L383.1 530.8L383.8 529.4L385.0 528.5L384.8 528.0L386.2 527.6L387.7 527.2L388.6 526.2L389.8 525.6L390.0 525.8L391.1 525.8L394.2 526.2L395.4 526.5L396.7 526.8L399.9 526.7L402.6 527.6L403.4 527.4L405.5 528.8L406.5 529.4L405.7 529.9L406.9 529.6L408.1 530.3L408.3 530.6L411.3 530.7L413.8 530.8L414.9 530.6L416.4 529.7L419.0 528.1L419.8 527.3L421.4 526.3L422.5 525.0L424.2 523.5L426.4 522.3L426.6 521.6L428.0 519.0L428.4 519.1L425.6 517.8L424.1 516.7L423.5 515.4L422.6 514.0L421.9 511.6L420.7 508.8L419.2 506.7L420.9 505.2L422.0 503.4L422.4 502.5L422.7 502.1L422.2 501.9L422.3 501.3L423.2 500.6L422.1 500.7L421.5 499.4L421.1 498.2L421.2 496.6L419.9 494.4L419.0 491.9L416.9 489.6L416.5 489.3L416.1 488.3L415.1 486.7L416.0 485.4L414.9 486.1L415.2 486.0L416.3 485.0L415.4 484.5L416.6 484.8L417.8 483.8L419.9 482.0L419.8 481.6L421.9 479.3L422.5 480.9L422.2 478.7L422.6 476.5L423.5 476.0L424.4 475.0L426.2 472.5L427.6 472.0L427.3 471.7L426.6 471.3L427.5 470.9L428.2 468.6L428.9 466.8L429.4 465.1L430.0 463.4L430.6 462.3L430.8 460.2L431.6 458.6L431.0 458.8L431.8 458.2L431.6 458.2L433.1 455.7L434.4 453.2L435.1 451.5L432.5 450.6L430.9 450.0L428.9 449.0L428.8 447.6L428.4 448.8L428.2 449.4L425.7 447.7L424.3 447.4L423.1 446.5L421.7 445.8L419.1 444.8L417.4 443.5L416.7 443.1L415.6 443.2L414.1 442.5L413.4 442.4L411.6 441.1L410.5 440.5L410.0 440.1L409.2 440.3L409.6 439.9L408.6 438.8L405.9 437.9L405.9 437.4L407.5 436.7L405.3 436.9L403.7 436.3L402.5 435.0L402.5 434.3L401.9 434.7L400.6 434.1L399.3 433.2L397.7 431.6L398.0 430.7L397.4 431.1L396.9 429.4L396.1 428.4L396.0 427.9L394.3 427.7L392.6 427.1L391.0 425.6L388.8 423.5L386.6 422.2L386.6 421.9L385.5 420.5Z" fill="#4472b8"/>
<path d="M508.5 161.6L507.1 164.2L506.0 166.4L505.4 166.9L505.1 169.3L504.3 172.1L504.0 172.9L502.4 174.0L502.6 175.0L501.8 174.2L500.6 175.0L498.7 175.9L497.0 176.6L496.3 177.6L495.3 178.8L494.2 180.6L493.8 182.0L492.9 183.5L491.0 185.7L490.1 187.7L489.3 189.3L488.8 188.9L488.9 189.9L488.5 190.4L487.8 192.2L486.6 194.4L486.0 196.1L485.2 198.5L485.3 198.9L484.0 200.6L483.4 202.8L482.9 203.9L482.3 205.1L482.2 206.3L482.0 207.4L480.8 209.5L478.5 211.9L477.7 213.7L478.2 214.3L477.4 214.2L477.1 213.7L477.0 214.9L477.0 216.4L476.8 219.1L476.9 221.2L476.8 222.9L476.5 224.4L476.3 225.5L475.5 228.7L475.1 229.8L474.7 232.0L474.1 233.0L475.1 234.0L474.4 234.1L475.2 234.3L475.5 237.0L476.5 239.5L473.2 240.0L472.8 240.9L472.5 240.2L470.7 241.6L469.9 241.3L471.0 241.2L469.5 241.9L469.1 243.4L467.7 245.4L466.2 247.4L465.4 247.8L465.8 250.0L466.1 251.5L465.0 251.5L466.2 251.9L466.1 253.0L465.4 253.2L466.3 253.8L466.3 254.2L467.1 255.5L467.3 257.0L466.1 256.8L467.3 257.4L467.3 259.0L468.3 260.5L468.5 262.4L468.1 262.8L468.6 262.8L469.6 265.0L469.7 266.2L470.2 267.8L471.2 267.5L470.4 268.3L470.2 269.5L471.1 270.5L470.2 271.8L471.3 271.1L471.0 271.3L470.7 274.4L471.1 276.7L471.0 278.1L470.8 280.3L471.2 281.9L470.2 283.6L468.8 283.1L470.1 283.9L469.5 285.1L468.9 286.7L468.0 289.6L467.6 289.1L467.9 290.0L466.6 292.5L466.2 295.3L465.3 295.3L466.1 295.7L465.4 297.8L464.4 297.5L465.3 298.3L464.5 301.0L462.9 300.3L464.3 301.4L464.5 301.0L464.1 302.9L463.3 305.4L462.5 308.2L461.9 309.3L461.5 311.6L461.8 311.9L462.7 309.7L462.5 309.2L462.3 311.3L462.2 313.1L461.4 315.0L462.0 318.3L462.5 320.3L462.7 321.6L462.5 322.9L463.3 324.6L462.0 324.9L463.6 325.4L464.2 326.9L465.2 327.9L463.8 328.5L465.4 328.4L465.0 328.3L465.6 330.1L465.9 331.6L466.4 333.0L467.2 334.9L468.1 336.8L467.5 336.6L468.4 337.4L469.4 338.9L470.1 339.8L470.8 342.4L471.9 343.2L472.8 345.5L473.4 347.4L472.9 348.2L472.5 351.0L471.7 351.1L472.4 351.6L472.7 353.2L473.3 355.4L472.1 355.7L473.5 355.8L474.2 356.9L475.0 358.9L475.9 359.7L478.0 360.5L479.9 360.7L480.2 361.1L481.2 360.0L483.7 358.5L483.1 357.7L484.2 358.2L485.1 358.5L485.0 358.3L485.5 356.6L485.7 355.5L486.7 354.3L488.6 353.5L490.3 351.7L490.6 351.4L492.3 351.1L491.9 350.4L492.9 350.8L494.4 349.5L496.4 348.8L496.2 348.4L497.0 348.4L496.5 348.2L497.7 345.4L499.0 344.6L499.0 343.3L499.1 340.6L498.5 340.7L499.2 340.0L499.7 339.5L499.7 337.7L500.2 336.7L501.1 336.6L500.3 336.1L500.4 333.6L501.0 333.6L500.5 333.3L500.3 330.4L501.3 329.8L500.4 329.6L501.1 329.9L500.3 328.2L500.0 326.3L499.3 324.2L500.0 324.0L499.2 323.7L499.0 323.3L499.8 321.4L499.3 318.6L499.9 315.6L502.1 314.2L503.6 313.5L504.3 312.6L505.7 311.0L508.4 309.5L509.1 310.6L509.0 309.1L509.7 308.1L511.2 306.4L512.7 303.6L513.2 303.3L514.3 303.8L513.3 302.9L513.8 301.6L514.6 298.7L515.8 298.4L514.7 298.2L514.7 297.6L513.7 295.2L512.9 292.4L512.7 292.3L510.6 290.6L509.7 289.0L508.0 287.8L506.4 285.7L505.5 284.2L504.1 283.4L503.3 281.8L502.4 280.0L502.3 278.5L503.7 279.0L502.2 278.1L501.9 277.7L501.8 275.1L501.2 273.9L501.1 272.0L501.1 270.4L500.6 269.2L500.8 267.3L501.7 264.7L501.8 262.1L502.1 260.6L501.6 260.3L502.4 260.1L502.5 259.1L504.0 256.6L503.2 256.6L504.3 255.9L504.9 255.7L505.5 254.4L505.5 251.8L506.3 250.0L508.7 248.0L509.7 246.3L512.0 243.9L512.3 242.4L512.9 242.7L512.7 242.0L513.9 241.5L515.3 241.2L514.2 240.8L514.3 240.2L514.7 237.9L516.0 236.4L516.5 233.5L517.1 233.0L517.2 231.7L517.9 230.2L517.0 230.0L518.0 229.8L517.9 227.7L519.4 224.8L519.9 224.8L519.5 224.0L518.9 224.4L519.8 221.7L520.3 219.4L521.4 216.6L521.4 216.0L522.7 213.3L524.5 211.2L525.4 210.5L527.3 209.8L529.1 208.8L531.7 208.4L530.9 205.8L531.1 204.0L529.9 202.0L530.5 202.1L529.8 201.6L529.1 199.3L528.9 197.9L528.0 198.2L528.7 197.2L528.4 196.8L528.4 195.1L527.3 194.1L526.1 191.1L526.4 189.7L525.9 188.7L525.0 188.3L526.6 188.4L524.9 187.7L524.5 185.7L524.2 183.6L523.9 181.8L524.5 181.6L523.8 181.1L523.2 179.7L522.0 176.9L520.8 175.0L519.5 173.9L518.8 172.5L517.2 171.5L515.5 169.7L513.2 168.5L512.8 167.8L511.3 166.4L509.8 164.1L509.1 162.2Z" fill="#d9312b"/>
<path d="M502.5 346.7L503.7 340.0L505.0 333.3L506.0 331.3L505.3 338.3L504.2 345.8Z" fill="#d9312b"/>
<path d="M513.3 333.3L514.2 327.5L516.7 322.5L519.7 320.8L519.2 325.0L517.5 329.2L515.3 334.2Z" fill="#d9312b"/>
<path d="M508.3 161.6L509.0 162.9L511.3 164.4L511.8 165.9L513.7 167.9L513.7 167.6L516.9 167.7L518.7 167.7L519.1 166.9L519.2 167.7L520.4 167.1L522.4 167.2L524.8 165.2L524.8 166.6L525.5 164.8L527.5 164.0L528.2 163.6L528.6 162.2L530.0 159.9L530.6 160.9L530.1 159.4L530.1 158.3L530.8 155.8L530.7 155.1L531.0 152.2L531.6 149.9L531.7 148.7L532.6 149.3L532.3 148.3L533.0 148.4L535.0 146.3L536.5 144.9L537.2 144.3L539.6 146.3L540.9 146.5L542.6 147.7L544.5 150.0L545.9 151.9L545.7 153.9L544.8 155.0L544.3 157.2L544.8 157.1L544.7 158.7L545.2 157.5L546.8 158.9L548.7 160.9L549.5 162.2L548.4 163.3L549.8 162.5L549.9 162.6L550.7 164.5L552.9 166.5L553.9 167.6L554.4 169.4L555.5 170.0L556.1 172.7L556.9 174.2L556.2 173.8L557.0 174.7L557.0 176.1L557.8 176.5L556.8 179.2L556.9 180.9L556.6 183.6L556.0 184.1L558.3 186.4L559.1 188.7L560.0 190.0L560.7 190.2L559.6 190.1L561.0 190.7L562.1 192.1L560.9 191.9L562.3 192.5L563.2 194.8L564.7 196.1L565.0 196.6L564.4 196.5L565.2 197.2L565.3 199.1L566.2 201.2L566.3 202.7L567.0 202.9L566.4 203.2L566.9 203.7L567.0 204.1L567.8 206.7L568.5 207.8L567.6 208.9L568.7 208.5L570.1 210.6L569.8 211.8L571.4 213.4L570.5 214.3L571.7 214.0L572.7 215.6L573.4 217.8L572.6 218.0L573.7 218.3L574.3 219.1L575.6 221.7L577.3 223.5L578.3 226.3L578.9 226.3L580.3 227.7L581.0 229.3L583.4 231.5L583.7 232.0L585.1 233.7L586.9 235.7L587.5 236.2L586.9 239.0L585.3 239.4L586.8 239.4L586.5 240.3L585.2 239.3L586.4 240.7L586.3 242.1L584.8 245.1L585.1 245.7L584.6 245.4L584.9 246.5L584.5 247.6L583.8 249.2L583.5 251.3L583.2 252.7L582.6 255.5L581.8 256.3L580.2 258.9L579.8 261.5L578.1 263.5L577.3 264.6L576.5 267.0L574.7 268.5L573.3 270.5L572.1 271.9L572.0 272.0L570.0 273.7L567.8 276.0L566.6 277.7L564.8 278.8L563.6 279.4L561.5 280.7L560.2 280.8L558.3 281.8L558.3 280.1L558.0 281.9L556.9 282.4L555.0 283.9L553.4 284.4L551.2 285.8L549.9 286.2L550.4 286.9L549.2 286.4L548.1 287.0L544.9 287.7L543.4 288.4L543.2 287.9L542.7 288.6L542.7 288.0L542.7 288.8L542.2 287.8L541.0 287.0L539.6 286.5L536.9 285.4L536.0 284.4L535.3 283.4L534.1 282.2L531.7 280.1L530.7 279.7L530.3 279.7L530.6 279.4L530.0 277.7L529.3 274.6L530.0 274.2L529.2 273.8L528.8 272.2L528.3 273.0L528.6 271.5L528.3 271.2L528.5 268.7L527.5 265.9L528.1 264.7L527.5 262.7L527.1 261.6L526.6 262.2L527.0 260.9L527.1 259.8L527.3 257.8L526.6 256.6L527.4 256.6L526.5 255.9L526.2 254.3L526.4 252.1L525.5 249.0L525.5 247.9L526.5 246.0L527.3 243.9L528.0 242.1L528.3 241.3L529.6 239.7L530.8 237.5L531.3 236.3L532.3 234.8L532.9 235.2L532.6 234.2L532.6 233.5L532.6 232.8L533.5 232.9L532.8 232.5L534.5 230.6L534.9 229.2L535.9 227.4L536.0 226.4L537.5 223.6L538.1 224.2L537.8 223.1L539.1 221.5L539.2 221.1L539.9 221.3L539.5 220.8L540.3 220.1L541.5 217.8L542.5 216.9L541.7 215.5L541.0 213.2L542.4 213.7L540.7 212.5L540.1 212.1L540.3 211.6L539.4 210.4L536.4 208.9L536.1 208.7L534.2 208.2L532.4 208.1L532.0 208.3L532.9 208.7L532.0 208.0L531.8 206.8L531.2 204.0L529.8 201.3L529.6 200.1L530.4 200.4L529.5 199.8L529.1 197.1L528.3 196.8L527.4 194.6L527.1 192.1L525.9 190.6L526.5 190.3L525.6 189.9L525.8 188.3L525.7 188.1L524.8 185.7L524.2 184.1L523.9 184.4L524.1 183.7L524.2 181.4L523.3 179.6L524.7 179.0L523.0 179.0L521.4 177.0L522.4 176.6L521.2 176.6L520.8 175.4L522.0 175.6L520.5 174.8L520.0 174.2L519.9 174.6L519.7 173.6L519.4 172.6L519.1 172.1L517.6 171.5L516.4 170.4L513.6 168.9L512.4 168.1L511.1 165.6L510.1 164.2L508.9 161.5Z" fill="#d9312b"/>
<path d="M519.0 288.3L522.2 287.3L523.3 290.5L520.1 291.5Z" fill="#d9312b"/>
<path d="M548.6 299.8L550.4 299.1L551.8 296.7L553.1 295.8L555.6 294.1L554.8 293.8L556.2 293.8L558.4 293.0L558.3 292.2L557.5 291.5L558.6 292.2L559.5 291.9L561.0 291.8L562.5 291.9L564.7 291.1L567.0 290.3L568.6 290.1L570.6 289.5L573.4 289.4L574.7 289.0L575.9 289.2L577.4 289.0L576.9 290.7L578.0 289.0L578.4 289.4L578.7 291.7L578.5 293.6L578.7 295.8L579.0 298.7L579.3 298.3L579.1 299.5L579.1 301.1L579.3 302.3L580.7 304.1L581.0 305.5L581.8 305.9L581.2 306.2L581.7 307.8L581.6 308.7L582.4 308.0L581.8 309.4L582.2 311.3L583.1 313.1L582.8 313.5L580.9 314.4L579.7 314.3L577.5 315.3L578.1 313.8L576.8 315.0L574.9 314.3L572.3 312.8L572.9 312.4L571.9 312.7L570.6 312.3L569.1 311.8L567.1 312.3L567.1 312.1L567.7 310.8L566.5 312.2L564.5 312.2L564.9 312.7L564.2 312.3L562.7 312.9L561.8 312.5L560.0 312.1L558.4 310.7L558.9 309.6L558.0 310.7L555.2 310.8L553.1 309.2L552.6 307.7L552.4 307.3L550.8 305.5L551.9 304.0L550.5 305.0L549.5 304.4L549.3 302.2Z" fill="#4472b8"/>
<path d="M538.2 311.8L540.3 308.6L544.6 307.5L547.8 310.7L544.6 313.9L541.4 316.0L539.3 315.0Z" fill="#4472b8"/>
<path d="M540.3 303.2L543.5 302.2L545.7 305.0L542.5 306.4Z" fill="#4472b8"/>
<path d="M310.0 632.8L313.3 636.7L314.2 642.5" fill="none"/>
<path d="M436.0 620.1L434.7 621.5L433.8 623.2L433.1 624.8L433.8 625.1L432.8 625.3L432.4 625.0L432.7 626.2L433.0 627.9L433.0 630.7L433.2 632.7L433.2 633.3L432.9 635.9L432.9 638.6L432.8 641.1L432.5 642.5" fill="none"/>
<path d="M313.1 346.6L313.7 347.0L313.0 347.0L312.3 348.5L312.3 350.1L311.2 350.7L310.3 351.4L308.9 353.1L306.9 353.7L306.5 353.1L306.3 354.0L305.6 354.8L306.6 355.5L307.1 357.4L307.4 357.8L308.4 358.2L309.3 359.5L310.0 359.7L311.8 359.9L312.4 360.0L314.0 358.7L315.9 360.5L315.7 361.2L316.8 363.2L317.4 363.6L317.7 364.5L317.9 363.8L319.0 364.5" fill="none"/>
<path d="M442.3 368.4L442.0 368.3L442.1 368.1L440.4 366.6L440.6 365.8L439.4 363.7L438.5 362.5L440.1 362.3L438.4 362.2L437.5 359.7L437.5 358.9L437.8 356.2L437.7 355.1L437.7 351.9L436.8 351.7L437.7 351.6L437.1 351.2L438.0 349.1L438.7 347.7L438.7 345.7L439.0 343.8L439.8 341.3L441.6 341.5L440.0 340.9L440.5 340.2L441.0 338.2L441.7 337.8L443.4 337.2L444.6 337.1L444.6 336.7L445.9 336.6L447.7 336.3L449.2 334.7L450.1 334.1L451.8 332.0L452.0 332.0L454.1 329.6L454.3 329.8L456.8 328.8L456.1 329.9L456.6 331.4L456.6 331.9L456.0 333.1L455.4 334.8L455.3 337.8L455.2 338.1L455.2 340.3L455.2 341.2L455.6 342.8L454.5 343.6L455.7 343.4L455.6 344.0L455.6 344.2L456.1 345.6L456.3 344.5L457.9 345.1L459.0 346.1L460.1 346.9L459.0 349.4L456.7 350.2L454.8 351.3L454.2 352.9L453.2 353.8L452.0 356.4L449.7 358.0L449.1 360.3L449.1 361.5L448.8 363.1L448.1 365.4L447.8 366.5L446.0 366.4L448.0 367.2L448.7 367.6L448.8 368.8L446.8 369.0L445.0 368.6L442.3 368.6L441.8 368.9Z" fill="#4472b8"/>
<path d="M451.4 359.6L452.9 358.5L455.2 358.1L457.1 359.2L458.6 361.8L458.9 364.1L457.4 365.6L455.2 366.0L452.9 364.5L451.4 362.2Z" fill="#4472b8"/>
<path d="M461.9 355.4L463.0 353.2L465.1 353.3L465.0 352.9L465.6 353.2L465.5 352.9L467.4 352.1L467.9 351.3L470.4 351.5L470.7 351.2L472.1 352.5L472.9 352.7L473.0 355.4L473.5 355.9L472.5 357.5L472.8 358.7L472.2 358.1L472.5 359.1L471.4 360.1L471.0 360.3L471.0 361.7L471.6 362.8L469.8 364.0L468.3 363.9L467.4 363.3L467.6 364.1L467.6 364.2L465.4 363.7L465.2 363.7L463.5 363.6L463.1 362.5L461.9 361.2L462.0 360.0L462.1 358.3L462.2 357.3Z" fill="#4472b8"/>
<path d="M460.5 368.2L462.3 367.1L465.0 367.5L467.2 367.1L469.1 366.0L471.0 366.4L469.8 368.6L468.3 370.5L466.1 371.6L463.5 371.2L461.2 370.1Z" fill="#4472b8"/>
<path d="M489.0 363.0L490.9 362.6L492.8 364.1L492.8 366.4L490.9 366.7L489.4 365.6Z" fill="#4472b8"/>
<path d="M458.6 334.8L460.8 334.0L461.2 335.5L459.3 336.3Z" fill="#4472b8"/>
<path d="M556.3 311.8L558.5 313.7L558.0 314.0L558.9 316.4L559.5 318.2L560.0 321.3L560.5 323.1L559.2 322.8L560.7 323.8L560.6 323.5L560.1 324.8L558.9 326.1L557.3 328.0L555.8 327.6L555.6 326.4L555.4 327.5L554.4 327.6L552.1 326.7L552.5 326.0L552.0 326.4L551.1 325.3L550.1 322.9L549.9 322.4L548.1 322.4L546.3 321.3L545.5 319.9L545.8 321.2L545.5 321.1L544.5 322.3L543.8 323.2L541.4 324.5L540.6 326.6L539.0 329.4L538.4 328.5L538.8 329.7L538.1 330.6L538.1 330.9L537.5 334.1L537.0 336.9L537.0 339.5L537.5 342.4L537.6 343.0L540.0 342.3L541.5 341.9L541.5 343.7L542.2 341.6L543.3 340.1L545.5 340.2L546.6 338.9L546.7 338.0L546.9 338.8L548.6 338.9L551.5 338.0L552.1 336.9L551.8 338.5L552.5 336.9L553.9 337.2L556.0 337.0L555.8 336.6L556.5 337.0L557.4 337.6L559.5 337.4L560.5 336.6L562.4 336.3L565.1 335.3L567.1 335.0L568.6 335.4L571.6 336.9L570.5 338.3L572.0 337.0L572.4 336.9L575.0 338.2L576.7 339.2L576.6 338.4L577.4 339.4L578.6 339.8L581.1 340.8L582.7 341.2L584.0 341.6L585.2 341.0L586.1 339.5L587.9 338.7L588.5 338.5L589.0 339.0L588.9 337.9L589.4 336.3L591.9 334.0L591.3 332.2L590.7 328.9L590.5 327.2L590.4 326.7L589.4 325.4L587.9 322.8L587.5 321.3L586.5 320.0L585.9 318.5L585.0 317.2L585.3 316.7L584.7 316.8L583.6 314.6L582.9 314.1L581.1 314.5L580.7 315.3L580.5 314.6L579.9 314.6L577.6 315.1L575.8 314.5L574.6 314.2L572.3 312.6L569.0 312.6L567.2 312.1L567.1 312.1L564.2 312.4L562.5 312.8L561.6 312.7L561.3 311.5L560.9 313.0L558.6 313.7L558.5 313.8L557.4 312.8Z" fill="#d9312b"/>
<path d="M537.9 343.4L537.8 344.8L538.4 343.2L540.0 342.1L541.3 341.8L542.7 340.8L543.6 340.9L546.1 339.1L546.6 339.9L546.8 338.9L548.5 338.8L549.6 338.3L551.3 337.1L552.1 336.9L553.3 337.2L556.2 337.5L557.8 337.5L559.6 337.7L561.2 337.0L562.7 336.5L562.6 335.9L563.3 336.3L564.0 336.2L565.2 336.2L565.0 335.8L565.7 336.0L567.0 335.3L568.7 335.6L570.5 336.6L571.6 336.8L572.2 337.5L574.1 337.6L575.0 338.5L578.0 339.4L578.6 339.9L579.2 339.1L579.3 340.1L580.5 339.7L582.6 340.6L584.1 341.6L583.2 344.0L582.7 346.9L583.2 348.2L581.4 350.0L581.1 352.5L580.5 353.5L579.9 352.2L580.3 353.8L580.0 354.4L578.9 356.9L579.2 358.6L580.2 358.9L579.1 359.1L578.4 359.8L578.5 360.7L577.3 362.9L577.6 363.6L577.1 363.3L576.7 365.3L574.0 366.4L572.4 368.2L572.1 367.8L570.4 369.3L569.0 369.7L566.9 371.2L565.6 370.5L566.8 369.9L565.0 370.1L564.7 369.5L564.6 370.2L564.1 369.1L562.7 368.4L562.8 367.9L559.9 367.2L557.6 366.4L557.2 367.3L557.1 366.3L556.4 366.1L555.6 363.9L555.8 361.8L555.7 360.4L555.3 359.8L552.7 359.0L553.0 359.6L552.4 358.8L550.2 357.2L547.7 356.9L544.9 356.4L542.1 355.7L541.5 355.3L540.0 352.9L539.4 351.2L539.5 350.1L539.0 347.3L538.4 344.8Z" fill="#d9312b"/>
<path d="M563.8 569.0L565.7 567.1L566.1 565.4L566.7 563.8L566.3 563.1L564.7 562.8L566.6 562.5L567.3 560.8L568.3 558.5L569.1 557.3L568.9 558.5L569.8 556.9L571.0 556.5L572.8 554.5L574.0 553.9L573.2 552.6L574.4 553.6L575.7 553.6L576.8 552.9L578.1 553.2L577.1 552.7L578.2 550.9L579.2 550.8L581.1 549.8L582.3 549.2L582.7 547.7L582.6 549.1L584.2 548.4L583.7 550.5L584.7 548.2L586.5 547.7L587.7 546.1L589.0 545.6L589.7 544.7L590.9 542.7L592.0 541.1L591.3 541.0L592.4 540.5L592.4 540.5L595.4 539.5L597.3 539.2L600.3 538.3L601.7 537.3L604.9 537.6L606.7 538.0L608.3 538.0L610.1 537.2L610.4 536.5L610.6 537.2L612.2 537.6L614.9 537.2L616.8 536.4L616.8 535.8L617.4 536.2L618.5 536.5L620.2 536.3L621.5 534.5L623.3 534.5L624.6 533.9L626.2 536.6L624.5 538.5L626.7 537.2L625.8 536.5L627.2 536.5L625.7 537.0L626.1 539.2L625.0 540.8L624.0 542.3L625.1 543.0L623.8 543.1L623.5 543.9L623.3 546.3L621.2 546.9L620.1 547.1L618.3 546.5L616.1 546.0L612.9 546.5L611.6 545.5L609.1 546.1L608.0 547.7L606.8 547.6L605.8 548.6L605.9 549.4L605.6 548.8L603.2 550.1L602.4 548.1L602.7 550.6L602.7 551.0L600.6 552.4L599.9 551.0L600.2 552.8L599.0 553.8L598.2 555.4L599.7 555.6L599.7 558.1L600.2 555.8L601.1 556.0L603.1 556.8L603.5 556.4L604.2 557.4L603.4 558.2L604.6 557.7L605.8 558.6L607.3 559.7L607.5 560.2L604.3 560.9L604.0 561.6L603.9 561.0L604.0 561.2L602.7 560.4L601.6 559.4L599.7 559.1L600.5 560.3L599.4 559.6L599.2 560.6L598.4 562.3L596.4 560.7L598.2 562.6L598.1 562.9L597.1 561.3L597.8 559.7L596.8 561.2L595.4 560.4L592.7 558.8L592.6 557.7L589.9 558.2L589.6 557.8L588.7 559.1L587.0 560.2L588.6 561.7L589.2 563.7L588.8 564.5L591.5 566.4L592.3 568.5L593.8 569.3L594.1 567.7L594.3 569.7L595.0 570.3L596.3 571.3L596.8 572.3L598.8 573.6L599.6 575.2L599.7 574.8L598.3 576.5L598.5 577.0L600.2 578.4L603.0 579.6L604.9 580.8L606.3 581.2L605.6 583.8L606.7 581.4L607.5 581.7L608.3 582.5L606.3 584.3L608.8 583.1L609.5 584.1L610.0 584.8L607.8 584.9L606.7 585.0L604.1 583.1L601.9 582.8L601.8 582.2L599.7 582.4L598.3 581.3L596.8 580.3L595.2 579.9L596.5 578.9L594.7 579.8L593.6 579.7L594.4 579.6L593.9 580.0L595.1 581.3L596.2 582.1L596.9 583.0L596.8 583.1L599.0 585.0L600.0 585.6L599.7 584.1L600.4 585.9L602.0 586.2L603.0 587.1L601.1 588.3L603.4 587.3L604.1 588.5L606.8 589.1L607.8 591.6L609.2 593.3L607.0 593.3L605.6 592.8L603.9 591.3L602.5 590.1L601.4 589.7L599.6 588.2L599.8 588.7L599.0 587.9L598.3 588.0L596.4 588.1L595.7 586.7L595.8 588.0L594.5 587.3L593.3 587.2L590.9 587.7L588.3 588.2L586.6 588.1L584.3 589.5L583.3 589.4L582.0 589.2L582.9 590.5L581.5 589.3L579.9 589.4L578.1 590.2L577.3 589.1L575.0 587.7L574.2 586.7L573.5 585.9L571.9 585.1L570.7 584.2L569.7 583.5L568.6 583.5L569.3 583.0L568.6 581.5L567.2 579.5L565.7 578.0L564.9 576.7L566.7 576.1L564.4 576.1L564.6 575.7L563.6 573.2L563.8 571.9Z" fill="#4472b8"/>
<path d="M577.8 594.7L579.8 595.7L578.1 594.5L580.2 592.8L581.6 591.4L584.2 590.7L585.9 591.0L586.7 590.0L588.9 590.2L591.0 590.2L592.5 590.9L594.9 591.6L596.7 592.5L597.9 592.7L595.9 594.5L598.3 593.0L599.3 594.6L599.5 595.6L599.9 595.0L600.9 594.9L601.0 596.6L602.4 597.7L602.5 597.8L600.4 598.8L599.2 598.3L597.9 597.1L598.6 598.8L597.1 600.0L596.9 601.6L596.6 600.4L596.2 600.3L595.3 600.3L596.5 600.8L598.2 602.4L599.6 603.5L598.2 604.0L599.8 603.9L599.8 605.1L600.3 606.8L601.3 609.7L599.5 610.9L601.5 610.2L602.5 610.8L602.2 611.3L601.3 613.1L600.6 613.4L601.8 613.4L600.4 613.1L599.3 610.8L597.4 608.7L598.3 607.6L596.8 608.6L595.1 607.5L594.7 608.6L592.9 607.5L594.7 609.2L594.7 610.9L594.9 612.5L595.0 613.3L593.9 612.3L592.9 611.5L591.1 609.6L590.2 608.5L589.6 607.2L589.0 610.2L587.6 611.2L587.5 611.7L585.9 611.1L585.1 610.2L584.9 610.0L584.3 607.9L583.7 605.9L583.8 604.8L583.0 603.3L582.2 603.1L582.8 602.7L581.2 600.5L580.8 600.0L578.7 598.1L577.7 596.7L578.0 595.2Z" fill="#4472b8"/>
<path d="M610.0 624.1L611.9 623.5L613.4 622.8L614.4 623.2L615.7 623.9L618.3 624.9L620.1 625.3L621.1 624.7L622.8 624.2L624.5 624.4L626.5 623.9L626.7 623.3L629.6 623.8L631.2 623.1L633.3 622.9L635.9 622.6L638.2 623.2L640.8 622.5L641.6 624.6L640.8 624.9L641.6 625.2L641.3 625.9L639.1 626.2L636.7 627.2L636.8 627.9L636.8 627.3L636.4 627.9L634.1 627.8L632.7 628.4L631.4 629.3L630.1 629.5L629.2 629.0L629.5 629.7L628.1 630.2L628.1 629.5L627.6 630.4L626.8 630.5L625.6 631.0L624.9 631.0L622.1 629.9L620.7 629.3L620.0 629.5L618.8 629.3L617.5 629.4L615.7 628.9L613.6 628.6L613.2 629.1L610.9 627.7L610.0 627.5L609.7 626.3Z" fill="#4472b8"/>
<path d="M625.0 569.2L627.5 567.0L631.7 568.0L632.5 570.3L629.2 571.3L626.3 570.8Z" fill="#4472b8"/>
<path d="M627.0 579.2L629.2 578.0L630.0 580.8L628.0 583.0Z" fill="#4472b8"/>
<path d="M655.0 605.8L657.5 602.5L658.8 603.3L657.0 607.5L655.3 609.2Z" fill="#4472b8"/>
<path d="M557.5 574.2L560.0 575.0L561.7 578.3L559.7 577.0Z" fill="#4472b8"/>
<path d="M568.3 591.7L570.8 590.8L571.3 594.2L568.7 594.2Z" fill="#4472b8"/>
<path d="M571.7 597.5L573.7 598.3L573.0 600.3Z" fill="#4472b8"/>
<path d="M607.3 550.0L609.0 549.7L609.3 551.7L607.7 552.0Z" fill="#4472b8"/>
<path d="M615.3 560.3L617.7 559.7L618.0 562.0L615.8 562.5Z" fill="#4472b8"/>
<path d="M637.5 587.5L640.3 586.7L640.7 588.3L638.0 588.7Z" fill="#4472b8"/>
<path d="M649.2 612.5L650.3 613.0L650.0 617.0L649.0 616.7Z" fill="#4472b8"/>
<path d="M610.7 577.0L612.5 576.7L612.8 578.0L611.0 578.3Z" fill="#4472b8"/>
<path d="M614.8 588.7L616.7 588.3L617.0 589.7L615.2 590.0Z" fill="#4472b8"/>
<path d="M618.2 592.0L620.0 591.7L620.3 593.0L618.5 593.3Z" fill="#4472b8"/>
<path d="M622.3 595.3L624.2 595.0L624.5 596.3L622.7 596.7Z" fill="#4472b8"/>
<path d="M619.8 599.5L621.7 599.2L622.0 600.5L620.2 600.8Z" fill="#4472b8"/>
<path d="M624.0 600.3L625.8 600.0L626.2 601.3L624.3 601.7Z" fill="#4472b8"/>
<path d="M615.7 604.5L617.5 604.2L617.8 605.5L616.0 605.8Z" fill="#4472b8"/>
<path d="M630.7 601.2L632.5 600.8L632.8 602.2L631.0 602.5Z" fill="#4472b8"/>
<path d="M631.5 590.3L633.3 590.0L633.7 591.3L631.8 591.7Z" fill="#4472b8"/>
<path d="M611.5 595.3L613.3 595.0L613.7 596.3L611.8 596.7Z" fill="#4472b8"/>
<path d="M622.3 605.3L624.2 605.0L624.5 606.3L622.7 606.7Z" fill="#4472b8"/>
<path d="M627.3 607.8L629.2 607.5L629.5 608.8L627.7 609.2Z" fill="#4472b8"/>
<path d="M642.3 596.2L644.2 595.8L644.5 597.2L642.7 597.5Z" fill="#4472b8"/>
<path d="M645.7 598.7L647.5 598.3L647.8 599.7L646.0 600.0Z" fill="#4472b8"/>
<path d="M650.7 597.8L652.5 597.5L652.8 598.8L651.0 599.2Z" fill="#4472b8"/>
<path d="M637.3 577.8L639.2 577.5L639.5 578.8L637.7 579.2Z" fill="#4472b8"/>
<path d="M616.5 555.3L618.3 555.0L618.7 556.3L616.8 556.7Z" fill="#4472b8"/>
<path d="M413.5 437.5L415.7 434.0L418.0 435.0L420.0 438.0L420.8 440.0L419.5 442.5L416.5 443.2L414.5 441.5Z" fill="#d9312b"/>
<path d="M414.8 485.6L416.1 484.8L418.0 483.1L419.5 482.5L419.7 481.5L420.7 481.9L420.0 480.9L420.9 479.7L421.9 477.8L422.8 477.0L423.4 477.5L423.1 476.5L423.5 476.0L425.8 473.7L426.9 472.9L427.5 472.7L430.1 472.3L429.8 473.8L430.9 472.2L431.3 471.5L433.1 471.3L435.4 470.5L435.1 472.1L435.8 470.3L437.6 469.7L438.3 469.0L441.0 469.3L441.2 470.8L441.8 469.4L442.6 470.1L443.4 469.7L444.4 471.0L446.3 471.0L447.3 471.7L448.4 472.2L447.5 472.8L448.9 472.3L450.8 473.0L452.8 474.3L453.3 474.2L454.6 475.1L455.9 476.4L456.1 476.8L454.9 479.8L454.2 481.7L455.0 482.5L457.3 485.3L454.6 487.2L453.2 489.3L452.8 489.7L452.8 489.1L452.1 488.9L451.2 488.0L449.8 487.0L448.0 486.4L447.4 487.8L446.3 489.2L445.0 490.0L445.2 491.0L444.7 490.5L443.9 491.2L443.7 492.4L443.2 491.7L443.4 492.8L442.7 493.1L441.5 492.3L440.1 491.0L438.6 489.3L439.5 488.3L438.1 488.7L438.1 487.9L436.5 489.6L435.9 488.4L436.0 489.9L435.5 490.4L433.9 490.7L433.2 491.4L433.9 492.1L432.7 491.5L431.1 491.8L431.8 492.3L430.7 491.9L428.8 492.9L426.8 493.0L427.5 492.3L426.5 492.9L424.7 492.3L422.4 491.7L421.2 489.5L420.6 488.4L420.0 486.7L417.5 488.3L418.1 488.9L417.1 488.6L417.0 489.0L417.8 489.2L416.8 488.5L416.3 487.6L416.7 486.5L416.0 487.0L414.8 486.4L415.4 485.7L414.5 485.8Z" fill="#d1dade"/>
<path d="M516.8 454.3L518.5 452.2L520.3 451.3L521.5 449.9L521.7 450.0L523.6 448.5L525.4 447.2L526.5 446.7L527.0 447.0L527.5 445.8L528.5 445.3L527.7 444.8L528.9 444.9L529.7 443.6L531.5 442.5L532.7 441.0L533.4 441.0L534.0 442.5L534.0 440.8L536.0 439.5L538.4 439.5L538.1 439.5L539.8 439.9L541.8 441.4L541.8 442.0L542.0 442.6L542.3 441.8L544.2 440.6L544.1 439.8L544.5 440.5L546.7 440.1L548.3 439.7L548.0 439.2L548.9 439.6L551.4 438.9L551.6 439.0L554.3 438.1L556.7 437.4L556.7 437.7L558.5 437.5L561.0 438.3L563.4 437.9L565.6 439.1L566.7 439.7L567.4 440.0L567.2 441.9L565.8 443.9L565.7 445.0L564.0 444.4L565.5 445.4L565.1 446.6L564.7 448.6L564.1 450.2L561.1 449.2L558.3 448.3L556.7 448.8L555.4 449.1L553.2 448.9L551.7 449.2L551.9 449.4L551.0 449.6L549.4 451.1L549.7 449.5L549.2 451.3L546.6 452.4L544.6 454.0L543.4 455.7L541.6 456.5L541.8 456.9L541.6 457.5L541.2 457.1L538.6 457.6L537.5 458.1L536.8 458.5L534.1 459.6L532.2 460.8L530.4 461.7L530.0 464.6L526.8 463.9L525.4 463.8L523.9 463.6L523.4 463.1L520.1 462.5L519.1 461.7L518.9 460.2L517.0 457.6L517.0 456.7L516.9 455.0L517.1 452.5Z" fill="#d9312b"/>
<path d="M513.0 478.8L513.9 478.5L513.2 479.1L513.2 480.7L514.5 480.2L513.6 481.1L514.8 482.1L515.4 482.1L516.8 483.5L517.6 485.4L516.7 486.2L518.2 485.9L520.1 486.5L521.5 486.1L520.7 486.8L522.6 488.2L523.7 487.2L523.2 488.5L524.4 488.2L525.8 489.4L526.6 490.5L529.9 490.7L531.4 490.7L533.2 490.3L533.5 492.9L533.5 490.2L535.3 490.7L538.5 488.9L539.8 490.0L540.7 492.1L541.8 490.9L540.8 492.6L540.5 494.5L541.8 496.3L543.1 497.7L543.9 498.1L541.8 497.1L543.8 498.7L542.9 499.6L543.5 501.6L543.0 502.1L542.7 502.7L542.4 502.2L541.4 502.3L540.1 502.6L537.7 501.4L535.8 500.8L534.9 500.3L533.5 500.9L530.8 499.7L528.5 500.5L527.2 500.3L526.5 498.9L526.5 500.4L524.9 500.8L523.1 500.2L522.6 501.3L522.7 500.3L520.4 501.2L517.5 501.7L517.0 500.6L517.0 501.8L516.9 502.2L516.2 500.3L516.1 502.4L515.2 502.6L514.1 501.2L514.9 502.7L514.1 502.7L512.2 502.6L511.4 503.2L510.3 501.4L511.2 503.6L511.0 504.4L509.7 503.6L510.7 505.0L509.7 506.3L509.8 506.8L511.0 508.0L511.6 509.5L509.0 510.3L512.0 510.2L513.7 511.4L514.8 511.6L513.9 511.7L514.8 512.9L515.6 515.0L514.8 515.1L516.0 515.5L516.5 516.9L518.6 519.0L520.2 519.5L520.6 520.7L521.8 521.6L523.8 524.1L524.6 525.0L525.9 526.5L526.5 526.9L528.2 528.0L530.2 529.0L531.4 531.1L531.0 532.6L532.0 531.6L533.4 531.9L534.7 533.6L536.2 534.2L536.8 534.6L537.9 535.6L540.2 535.9L540.8 535.1L539.7 535.8L538.4 535.3L537.1 535.2L537.0 535.2L535.9 534.4L533.4 532.9L533.0 532.8L531.0 531.6L529.1 530.4L527.2 530.3L526.8 528.5L524.9 527.2L523.6 526.6L523.8 524.9L523.2 526.3L523.4 525.8L521.6 525.3L520.1 525.0L519.1 523.7L516.8 522.9L514.7 522.1L512.9 520.3L513.8 519.9L512.6 520.0L511.6 519.5L510.2 518.4L509.6 517.9L508.1 516.2L508.3 515.3L507.6 515.7L506.9 513.7L506.1 513.0L503.5 511.2L502.1 508.9L502.2 507.6L501.6 508.3L499.9 507.6L498.3 505.7L498.3 505.0L497.5 503.8L496.9 502.3L495.4 500.4L494.0 502.8L492.8 503.0L491.1 502.5L492.4 503.7L492.6 505.4L490.8 507.1L490.9 507.5L489.9 506.7L489.0 503.4L488.0 503.4L488.1 501.9L488.1 499.2L486.8 499.3L488.0 498.9L487.6 499.4L488.9 499.0L490.6 497.7L490.8 497.5L493.5 498.5L492.3 499.4L493.9 498.6L494.8 497.9L496.2 497.9L497.7 496.9L500.1 496.1L502.4 494.0L503.8 493.4L504.5 493.1L503.9 492.4L504.6 492.8L506.3 490.8L505.9 489.4L506.7 488.3L507.9 487.3L509.3 486.4L510.1 486.0L512.7 483.9L513.9 484.2L513.2 483.6L513.7 483.2L513.0 481.4L514.2 480.8L512.9 480.7Z" fill="#d9312b"/>
<path d="M578.4 506.6L579.9 508.6L583.0 509.0L584.2 510.2L586.5 510.4L589.3 511.1L590.0 511.1L591.4 510.6L593.6 510.1L595.4 510.5L596.7 509.9L598.1 510.2L600.0 509.3L603.2 509.7L603.2 509.0L605.6 508.1L606.8 507.6L608.1 507.0L610.2 507.1L612.2 505.5L614.4 504.7L615.5 505.5L614.8 504.5L614.9 503.9L616.9 502.8L618.5 502.2L618.8 503.1L618.9 502.0L619.9 501.3L621.7 501.2L624.6 501.0L625.5 501.7L625.4 500.8L625.9 500.4L626.7 500.1L629.2 499.5L631.1 499.4L631.7 500.1L631.6 499.3L633.1 499.6L633.3 499.3L636.0 499.8L638.6 500.2L639.2 501.2L641.8 501.0L643.9 500.8L645.0 500.8L646.6 500.8L646.6 502.8L646.6 506.0L647.1 508.7L646.8 510.7L646.6 512.9L646.8 515.5L646.3 518.4L645.2 519.0L646.3 519.2L646.9 521.0L646.5 523.2L646.4 524.5L647.1 526.5L646.7 527.0L644.9 526.3L641.7 526.7L641.8 527.3L641.4 526.7L639.4 526.5L638.2 527.0L635.6 526.5L633.4 525.9L632.4 525.2L632.8 526.2L631.3 526.3L629.5 527.7L627.8 528.8L627.3 530.1L626.8 530.9L626.8 529.5L626.3 531.3L625.9 531.8L623.3 533.6L622.6 534.3L621.8 535.1L620.6 535.5L619.6 536.8L617.7 537.7L616.7 538.2L614.4 539.3L611.7 540.4L610.6 539.9L608.6 539.6L606.0 540.4L605.0 540.0L603.9 540.2L602.7 540.8L600.6 542.0L600.0 541.6L598.3 542.5L596.8 542.5L594.3 543.7L592.6 544.3L590.6 544.6L589.4 545.3L589.5 544.8L588.0 542.1L586.9 539.9L585.8 538.1L584.4 535.9L583.7 534.8L582.8 533.6L581.1 531.4L581.0 530.0L580.2 530.3L581.2 529.3L581.6 527.2L582.0 525.1L582.6 523.0L583.0 520.5L583.2 520.0L582.1 517.5L580.8 515.0L580.1 513.8L578.1 511.2L578.6 510.3L577.9 510.9L577.9 510.9L578.1 509.0Z" fill="#d9312b"/>
<path d="M704.8 612.7L708.0 609.5L711.2 606.3L715.4 605.2L719.7 602.0L724.0 598.8L727.6 596.3L726.1 599.9L722.9 604.1L725.0 607.3L720.8 609.5L716.5 613.7L712.2 615.8L708.0 616.9Z" fill="#d9312b"/>
<path d="M495.8 504.2L498.3 507.5L500.0 511.7L498.7 511.3L496.7 507.5Z" fill="#d9312b"/>
<path d="M500.0 513.3L504.2 517.0L506.7 520.0L505.0 519.7L501.3 516.3Z" fill="#d9312b"/>
<path d="M515.0 530.8L519.2 531.7L521.7 533.3L517.5 533.0Z" fill="#d9312b"/>
<path d="M518.3 526.7L523.3 528.3L526.7 530.8L522.5 530.3Z" fill="#d9312b"/>
<path d="M522.5 535.0L526.7 535.3L529.2 536.7L525.0 536.7Z" fill="#d9312b"/>
<path d="M395.8 412.9L395.9 414.1L396.1 412.9L396.8 413.0L399.5 413.3L400.9 413.1L403.5 414.3L405.0 415.0L406.2 415.1L408.6 414.2L410.1 414.0L411.0 415.1L413.2 415.7L414.1 416.8L415.7 418.9L415.4 419.6L415.9 419.2L416.4 420.9L415.5 420.5L416.6 421.4L416.9 422.2L417.5 423.3" fill="none"/>
<path d="M428.5 385.0L428.8 387.2L428.9 388.5L429.2 391.4L429.0 391.6L428.6 393.7L426.8 395.9L427.0 396.0L426.6 396.2L426.6 396.6L425.9 398.0L425.2 398.7L424.9 400.0L424.5 400.7L424.8 402.8L425.0 405.0L423.3 407.0L421.9 408.0L421.1 409.4L419.9 410.6L418.8 412.3L418.1 412.5L418.4 414.2L418.6 415.3L417.5 415.5L418.7 415.7L419.5 417.5L418.9 418.2L418.8 420.3L419.3 420.8L418.6 421.0L417.8 422.3L417.5 423.3" fill="none"/>
<path d="M417.5 423.3L417.7 425.1L418.5 426.8L419.0 428.3L419.7 430.1L419.5 432.1L418.4 432.7L419.6 432.7L419.9 433.2L418.6 434.1L417.7 434.5L417.5 435.0" fill="none"/>
<path d="M488.9 380.9L489.2 382.2L489.9 383.4L490.6 385.7L491.1 386.8L490.0 389.3L489.2 390.7L488.8 392.7L488.3 393.3L488.9 394.3L489.3 397.1L490.7 399.1L490.6 400.1L489.3 400.5L490.7 400.5L491.1 401.4L492.1 403.3L492.6 405.6L493.3 406.7L493.7 409.3L493.7 412.0L494.4 413.2L494.7 416.2L495.3 416.3L494.8 416.7L495.2 418.0L495.5 418.1L495.3 418.4L495.5 420.1L496.7 421.7" fill="none"/>
<path d="M496.7 421.9L495.7 421.4L494.0 421.9L491.8 421.9L490.7 422.4L489.3 423.7L486.9 424.8L486.7 423.9L486.4 425.1L486.6 424.8L484.9 426.1L482.5 426.8L480.0 428.0L480.1 428.4L478.4 428.7L477.2 430.1L475.8 430.6L475.2 431.1L473.4 432.4L471.6 433.1L471.8 433.3L472.3 435.1L472.6 436.4L473.4 438.3L474.6 441.0L475.6 441.7L476.5 443.5L478.2 444.6L480.1 446.2L481.4 448.2L481.8 447.8L481.7 448.5L481.9 448.1L483.3 450.0L484.4 451.2L485.8 452.2L486.6 452.8L486.7 453.3L488.6 454.0L489.3 455.2L490.8 455.8" fill="none"/>
<path d="M496.8 421.5L497.8 422.6L499.6 423.0L500.4 423.8L501.8 424.0L503.1 425.1L505.5 426.2L506.5 426.9L507.2 427.9L508.0 428.6L509.4 429.9L510.0 430.7L511.5 430.9L512.5 430.7L514.8 430.4L515.1 429.6L516.5 430.3L518.8 430.4L519.8 431.1L521.5 431.6L523.9 432.4L524.9 433.6L527.0 434.1L528.6 434.2L529.7 434.7L530.0 435.0L531.4 436.6L532.6 438.1L533.3 438.3" fill="none"/>
<path d="M487.6 456.1L489.4 454.9L490.8 454.2L492.7 453.4L493.6 454.3L493.3 453.2L495.3 453.0L496.9 452.7L498.2 451.8L499.8 449.9L500.0 450.1L501.1 449.9L501.4 449.6L501.6 450.0L502.4 450.0L504.6 450.6L504.5 451.0L505.2 450.7L506.0 450.4L506.7 450.7L509.1 451.0L511.8 450.9L511.8 450.1L512.2 450.9L513.2 451.0L515.0 451.9L517.5 452.6L517.5 452.5" fill="none"/>
<path d="M453.5 475.3L455.3 473.7L456.5 473.0L457.6 472.8L459.5 472.0L461.4 471.6L461.5 471.1L461.9 471.5L463.3 470.7L465.4 470.7L468.3 470.2L470.0 470.1L472.1 469.4L474.8 468.6L476.0 468.0L477.0 468.7L478.7 469.7L479.8 470.8L479.5 469.6L479.8 467.1L478.8 465.1L478.4 463.1L478.4 461.6L478.1 460.5L480.4 459.4L481.7 458.8L482.9 458.8L483.5 458.6L484.8 457.6L485.9 456.9L487.5 455.8" fill="none"/>
<path d="M456.7 481.1L458.8 480.5L461.2 480.2L462.5 479.7L463.2 480.7L463.1 479.6L465.1 479.7L467.5 479.6L468.3 479.6L470.7 479.0L473.0 479.3L473.4 479.0L473.8 478.8L473.8 479.3L474.5 479.7L476.2 481.2L475.9 481.5L476.7 481.5L477.5 481.6L478.3 482.4L480.6 483.4L483.1 484.2L483.3 483.5L483.5 484.3L483.3 484.4L485.1 485.0L486.7 485.0" fill="none"/>
<path d="M487.0 485.0L486.1 486.3L486.3 488.1L485.7 489.2L486.1 489.9L486.2 491.6L487.1 494.1L487.2 494.9L486.8 496.1L486.6 497.1L486.7 497.5" fill="none"/>
<path d="M486.7 485.4L487.9 484.5L489.1 484.8L491.8 484.4L492.8 484.1L493.3 484.2L494.7 484.2L495.9 483.5L496.2 484.5L496.2 483.5L497.0 483.6L500.0 483.6L499.9 482.9L502.1 483.0L502.8 483.6L502.8 482.8L504.8 482.2L506.0 481.7L506.8 482.0L508.8 481.2L510.0 480.6L512.0 479.7L512.5 479.2" fill="none"/>
<path d="M519.1 464.7L517.3 465.8L515.0 466.7L514.6 468.7L513.3 469.0L514.4 469.3L513.4 471.1L513.1 471.8L513.6 473.4L515.0 475.4L514.9 475.7L514.5 476.8L514.7 477.2L514.2 477.2L513.8 477.8L512.5 479.2L512.1 479.5L512.9 479.8L513.6 480.1L514.1 481.2L515.0 482.5" fill="none"/>
<path d="M554.2 485.0L556.1 483.2L557.3 481.5L558.6 480.7L559.7 478.1L560.9 476.9L561.1 477.4L561.3 476.4L561.3 475.7L562.7 474.0L563.4 471.3L564.1 469.0L564.5 468.4L564.9 466.7L565.1 465.5L565.7 462.6L565.5 461.5L566.7 460.0L567.7 457.3L568.3 456.7" fill="none"/>
<path d="M544.2 498.0L544.2 499.5L544.7 500.6L545.2 502.6L544.6 502.8L545.3 503.2L545.1 502.8L544.4 505.4L543.0 505.5L544.2 506.0L544.0 507.5L543.5 508.1L544.9 510.0L544.8 511.3L544.1 511.1L545.0 511.5L545.9 512.9L546.4 512.7L547.2 514.7L548.4 516.3L548.0 516.9L548.6 516.5L547.9 516.5L547.4 516.4L547.8 517.1L547.4 518.2L547.6 519.9L547.4 520.6L545.3 521.3L545.0 521.9" fill="none"/>
<path d="M545.3 522.1L543.8 524.3L542.8 525.1L542.0 527.4L541.2 529.4L541.0 529.4L540.7 530.4L540.2 530.1L540.6 531.0L540.2 532.7L539.9 533.6L540.2 535.8" fill="none"/>
<path d="M545.0 521.9L546.1 522.2L546.9 523.2L548.9 524.0L550.3 524.9L551.8 526.4L553.0 526.7L555.4 528.3L557.3 528.9" fill="none"/>
<path d="M557.5 528.9L556.8 531.3L556.5 531.3L555.0 532.9L553.9 533.5L553.9 533.8L553.3 534.0L551.9 534.9L551.5 535.8L550.7 537.4L550.1 540.1L550.9 542.8L551.0 543.8L550.9 544.8" fill="none"/>
<path d="M557.3 528.9L558.4 528.1L559.8 526.0L560.5 525.7L561.6 524.1L563.3 523.3L563.1 522.9L564.7 524.3L566.3 524.3L567.1 524.8L568.0 526.1L569.5 527.4L570.8 527.5L572.5 528.9L572.9 530.1L573.4 529.9L573.0 532.5L572.5 534.1L572.9 535.0L570.4 536.0L569.2 537.2L567.4 537.6L565.7 538.4L564.2 539.0L563.0 540.2L561.6 539.1L560.7 537.2L561.0 536.3L560.3 536.8L558.7 535.5L558.4 535.8L558.1 535.0L558.1 534.6L557.1 533.8L556.7 531.5" fill="none"/>
<path d="M572.7 534.7L577.5 533.7L581.2 533.1" fill="none"/>
<path d="M562.8 540.2L563.2 541.5L564.0 542.6L564.3 543.2L564.3 545.1L563.9 547.5L564.0 549.0L564.7 551.0L564.7 551.8L565.6 552.6L566.9 555.0" fill="none"/>
<path d="M567.1 554.9L567.2 556.0L568.5 557.1L569.2 558.3L568.5 559.3L567.9 561.1L566.9 562.4L566.1 561.8L566.6 563.0L566.1 563.7L565.9 565.9L565.0 566.6L564.0 569.2L563.4 571.6L563.1 572.0" fill="none"/>
<path d="M644.5 474.8L643.6 472.0L643.3 470.5L644.0 469.3L645.4 468.0L646.3 465.6L646.4 465.0L647.9 463.7L648.7 462.4L649.6 460.3L650.9 458.8L652.9 456.9L654.3 455.5L654.9 454.9L656.5 454.8L657.5 455.5L658.3 456.0L660.9 456.0L662.6 456.7L665.8 455.7L668.9 455.2L671.9 454.4L675.1 454.3L676.5 453.7L677.5 453.2L680.4 452.0L680.2 451.5L680.7 451.8L681.8 451.4L682.2 451.5L681.3 451.9L679.8 453.7L677.7 455.8L676.2 456.6L674.6 458.9L672.8 460.8L671.9 460.5L672.5 461.2L672.3 462.0L671.1 464.0L671.2 464.9L673.1 466.0L674.7 466.8L676.9 466.8L677.6 467.0L680.0 467.8L680.5 469.1L680.7 468.1L682.0 468.7L682.0 468.1L682.6 468.9L683.7 469.5L684.2 469.8L683.8 470.0L684.7 472.3L685.2 474.7L685.0 474.6L687.7 474.3L688.8 473.6L689.4 473.9L690.0 472.6L692.1 470.7L693.4 469.3L693.9 470.8L693.9 468.9L695.1 468.5L697.3 466.2L698.0 466.5L698.3 464.9L700.8 462.8L701.4 461.2L702.1 461.0L703.4 461.9L702.4 460.8L703.7 460.3L705.6 459.1L707.2 457.5L708.8 456.2L710.6 454.7L709.1 454.8L706.6 453.8L705.3 453.9L704.0 453.0L704.9 454.0L703.7 453.8L702.3 455.0L700.8 454.8L701.3 455.2L700.0 455.1L700.0 455.4L697.4 454.3L695.6 453.9L695.8 453.4L694.9 452.4L694.8 453.4L694.6 451.9L693.1 450.0L693.8 448.7L692.9 449.6L692.2 449.0L693.3 447.7L694.5 446.2L695.6 445.3L696.6 444.0L697.0 444.2L696.7 443.2L697.3 443.9L698.1 442.2L699.7 441.0L700.5 440.0L701.8 438.4L702.7 438.7L702.0 438.1L704.3 436.4L705.4 435.2L707.3 433.2L708.1 431.5L708.2 432.8L708.4 431.2L709.7 430.5L711.2 428.0L711.5 427.7L713.2 426.6L715.8 424.6L716.8 423.6L718.6 422.9L720.8 420.8L722.0 419.6L722.5 418.7L722.2 419.8L724.6 421.1L724.0 421.3L723.3 424.6L722.5 426.0L721.1 427.3L720.0 428.9L718.8 430.2L720.1 432.2L720.4 433.9L721.4 435.5L719.9 437.8L719.5 439.9L718.8 441.4L719.3 441.8L718.6 442.9L719.4 442.4L718.5 443.6L718.5 445.5L718.3 448.2L717.9 448.0L715.2 449.9L714.3 449.5L714.6 450.3L713.6 451.4L713.0 452.4L712.5 454.4L712.1 454.2L713.4 454.7L715.6 454.9L716.7 455.9L719.7 457.2L721.1 458.1L722.6 458.4L725.3 458.8L727.7 458.7L729.2 459.1L730.9 459.5L733.9 460.8L736.0 461.3L738.1 462.2L741.2 463.3L743.3 463.3L742.5 464.4L743.7 463.4L745.8 463.7L745.8 463.9L748.6 465.1L749.7 466.1L750.9 466.7L753.3 467.1L756.0 467.1L756.4 467.1L756.7 468.1L756.7 467.2L758.7 467.8L761.0 468.9L762.7 469.1L762.9 469.2L764.3 470.5L765.6 471.4L767.7 472.8L768.2 472.6L768.8 473.6L768.2 474.3L769.2 474.2L770.5 475.4L771.3 476.3L772.0 477.1L771.0 477.7L772.2 477.4L772.7 477.8L773.0 479.4L773.9 481.1L774.5 483.3L774.1 485.9L773.9 487.4L773.6 488.6L773.3 488.6L772.4 490.4L771.5 492.4L770.3 494.0L770.2 494.0L768.8 496.1L767.2 498.5L764.7 499.4L762.4 500.7L762.3 501.7L762.0 500.9L761.5 501.0L759.8 502.4L760.0 503.3L759.4 502.6L757.3 503.0L755.4 503.8L756.2 502.2L754.9 504.0L752.4 504.4L749.7 505.1L748.4 505.3L747.8 505.8L746.4 506.0L743.6 505.9L741.3 506.2L740.3 506.7L737.6 506.0L737.1 504.4L737.2 505.9L735.3 505.9L732.8 505.5L731.4 506.0L730.3 506.9L728.8 506.6L726.1 507.9L725.4 507.9L725.2 507.3L725.1 507.7L723.5 506.4L720.4 505.2L719.8 505.5L719.8 504.8L720.1 504.6L717.1 505.9L716.1 506.4L714.9 506.3L713.6 506.2L710.8 505.5L710.7 505.6L709.1 503.4L708.6 502.8L706.4 504.5L704.1 505.6L703.0 506.3L700.4 507.2L698.2 507.7L697.8 508.1L695.7 508.6L693.7 509.4L691.5 511.2L689.0 512.2L687.0 514.1L686.0 514.7L685.2 513.9L685.7 514.9L684.8 515.1L683.7 514.1L684.5 515.4L682.7 517.3L682.6 516.4L682.3 517.7L682.3 518.5L681.0 519.7L679.5 520.5L678.6 521.4L678.1 522.4L676.7 524.0L675.5 526.0L674.5 526.5L672.9 528.2L673.7 528.7L672.5 528.5L671.2 529.5L668.7 529.9L667.4 530.3L665.3 531.2L664.7 531.3L662.6 531.9L661.2 531.7L659.1 531.8L657.3 532.3L656.3 531.1L656.6 532.3L655.7 532.3L655.3 531.7L655.3 532.3L652.8 532.3L651.6 532.7L650.1 533.0L649.0 532.1L649.4 533.1L649.8 533.2L647.9 532.8L648.1 533.3L647.3 532.7L645.9 532.6L643.7 531.9L643.5 532.2L641.6 531.3L640.8 530.2L640.5 530.0L638.7 527.7L636.9 526.0L635.2 523.6L633.9 521.5L633.8 520.6L634.6 518.5L635.6 515.7L635.8 514.1L634.8 513.9L636.0 513.6L636.6 511.3L637.3 508.8L638.0 507.8L638.4 506.7L639.4 503.9L640.3 501.4L639.6 499.5L639.8 497.8L638.9 497.7L639.7 497.2L639.9 497.1L639.6 495.7L640.6 495.1L639.7 494.9L640.3 494.3L640.2 491.5L640.3 490.8L640.8 487.6L641.2 486.5L641.2 485.3L641.3 484.4L642.6 482.5L644.0 480.8L644.9 480.0L645.1 480.1L645.1 478.9L645.3 476.3L645.6 474.5Z" fill="#ffffff"/>
<path d="M837.8 358.8L838.7 359.6L840.2 360.3L841.0 360.9L841.8 364.1L841.1 363.8L841.9 364.8L842.0 367.4L843.0 368.2L843.6 370.8L844.9 373.1L845.3 373.7L847.9 375.1L849.3 375.1L851.7 376.5L850.2 377.4L848.2 378.8L846.4 380.1L846.5 378.4L845.9 380.4L844.0 382.1L842.0 383.1L840.0 385.3L839.1 386.6L837.6 387.5L837.5 389.7L836.8 391.5L836.8 392.7L839.2 394.1L841.0 394.4L841.4 395.3L841.4 394.6L842.8 395.1L843.2 395.0L841.8 394.3L843.0 395.4L842.1 397.7L841.1 399.6L838.3 400.4L836.3 401.2L834.8 401.4L833.5 403.9L833.6 404.4L835.7 404.1L838.5 404.6L838.9 404.5L839.3 404.2L839.2 404.7L840.1 405.3L839.2 406.4L840.7 405.7L842.3 406.8L844.5 407.9L845.3 408.9L845.7 408.4L845.8 409.2L846.7 409.3L847.9 410.6L849.3 411.6L850.6 411.7L851.9 412.2L853.2 412.4L852.9 412.9L853.9 412.4L855.6 411.7L858.0 411.6L860.0 411.7L862.8 411.3L864.0 411.3L865.9 410.7L865.0 411.7L866.2 411.2L866.4 412.5L866.8 413.7L868.4 416.0L868.9 417.3L869.9 418.7L869.9 420.1L870.0 420.2L872.0 422.8L872.2 424.0L874.1 425.0L875.1 426.1L875.5 426.0L876.9 426.8L877.7 428.1L878.5 428.9L880.3 430.6L882.0 431.0L881.8 431.4L882.6 434.2L882.9 434.1L882.8 434.6L883.1 435.7L883.4 438.6L883.5 440.1L885.1 442.3L886.0 443.2L887.8 443.8L888.2 443.7L894.5 443.7L895.4 493.8L888.6 493.6L886.3 493.0L886.4 493.6L885.8 492.8L884.2 492.4L882.8 492.2L882.4 491.3L880.5 492.7L880.9 493.4L880.1 492.9L879.6 493.4L877.3 494.0L876.7 493.7L876.8 494.2L876.5 494.9L876.2 495.0L876.0 494.3L875.7 494.9L874.4 494.4L872.3 494.6L869.6 494.1L868.0 492.0L865.7 490.3L864.5 489.7L864.0 487.7L862.9 486.1L861.7 484.4L861.5 483.3L860.5 482.2L860.3 479.6L859.3 479.8L860.1 479.1L859.9 478.1L858.7 477.0L858.9 475.5L858.6 473.0L858.4 470.9L858.9 470.4L858.3 470.2L858.0 469.6L857.7 468.5L857.9 465.3L857.5 462.4L856.7 459.6L859.2 458.2L860.8 455.8L861.6 456.0L862.5 454.2L863.4 453.9L863.1 454.9L862.6 453.9L862.2 453.1L861.5 452.5L861.5 453.1L859.2 453.4L859.9 452.5L858.8 453.4L856.9 453.9L854.5 453.3L851.8 452.4L850.8 452.2L849.4 451.8L846.7 450.7L844.4 449.8L844.2 449.3L842.9 448.7L840.3 446.9L837.8 446.2L835.6 445.1L833.4 443.5L831.3 443.3L829.7 442.4L827.8 440.7L825.1 439.7L822.7 437.5L821.5 436.6L819.8 435.3L818.1 433.0L817.2 432.1L816.3 430.2L816.4 428.9L815.1 427.1L814.6 426.1L814.3 426.1L812.4 424.8L809.9 423.7L809.6 424.2L809.5 423.5L808.2 423.2L808.2 422.4L805.7 420.9L804.5 420.5L804.5 420.9L803.8 420.1L803.3 419.4L803.5 418.1L803.0 419.2L802.5 419.5L803.3 416.7L803.5 414.5L803.4 413.2L802.9 413.5L803.3 412.8L803.1 411.7L802.6 408.6L802.9 407.7L804.5 408.0L802.8 407.4L802.4 405.5L801.9 402.7L803.1 403.3L801.7 402.0L801.7 402.6L803.0 402.2L803.9 401.3L806.1 400.4L806.9 399.1L807.5 396.4L809.1 394.3L808.7 393.8L809.9 392.5L810.5 390.2L811.2 387.5L812.4 385.3L812.9 385.4L812.5 385.0L813.0 383.6L814.2 381.3L814.3 381.1L815.4 379.4L816.9 376.8L817.4 375.1L817.6 374.7L816.8 374.6L817.7 374.4L818.3 372.6L819.6 369.6L820.3 370.1L820.0 368.9L820.8 368.3L823.1 367.1L825.5 365.5L826.1 365.0L827.6 364.4L827.7 365.1L828.3 364.2L829.3 364.2L831.8 363.1L832.4 362.9L833.4 362.0L835.3 360.4L835.0 360.0L835.8 360.0L836.1 359.6Z" fill="#ffffff"/>
<path d="M894.5 417.6L888.2 417.6L885.0 414.9L882.3 413.0L878.6 415.4L875.6 419.7L874.8 422.9L877.5 425.6L880.2 428.2L882.8 430.9L885.5 429.8L888.2 427.9L894.5 427.9Z" fill="#ffffff"/>
<path d="M628.3 550.8L635.8 544.2L641.7 540.8L648.3 538.7L655.0 538.0L662.5 539.2L660.0 540.8L655.8 542.0L654.2 545.0L651.7 546.7L645.0 546.7L640.0 547.5L635.8 549.2L630.8 551.3L627.0 554.2L626.3 553.3Z" fill="#ffffff"/>
<path d="M411.0 395.5L413.5 394.5L414.6 397.0L413.2 400.0L411.6 401.6L410.6 399.0Z" fill="#ffffff"/>
<path d="M439.4 343.8L441.3 341.2L443.2 339.3L445.0 340.0L443.9 342.3L442.4 343.8L445.0 343.0L446.2 340.8L447.7 339.3L449.5 338.9" fill="none"/>
<path d="M888.2 406.2L883.9 406.9L879.6 409.6L875.9 413.8L873.2 418.6L872.2 422.9" fill="none"/>
<path d="M888.5 346.0L875.9 364.1L888.5 382.2" fill="none"/>
<path d="M652.6 534.1L653.0 538.3" fill="none"/>
<path d="M592.0 332.4L594.1 332.4L596.3 331.8L598.8 331.2L600.5 331.4L602.6 331.2L604.2 331.3L606.6 332.3L608.9 332.5L611.5 333.8L613.1 334.7L614.3 335.8L614.5 335.4L614.8 336.1L615.5 336.5L616.1 338.3L617.3 340.2L617.6 340.3L617.5 340.5L618.1 342.0L617.4 342.0L618.3 342.5L618.2 343.2L618.9 343.8L619.2 345.2L620.5 346.7L622.6 348.4L624.0 349.8L625.2 351.1L626.7 351.4L628.2 352.2L629.1 352.8L630.1 353.1L631.0 354.1L633.2 355.2L635.5 355.9L635.8 356.9L635.9 356.1L636.9 356.6L638.1 359.2L638.1 360.5L636.4 362.2L634.5 363.1L633.5 364.2L633.2 364.1L632.3 365.0L631.0 367.5L630.2 368.2L631.0 370.3L632.2 371.9L633.1 373.8L633.4 374.1L634.5 375.9L636.3 377.7L636.7 378.3" fill="none"/>
<path d="M636.5 378.0L635.8 379.2L634.6 379.3L633.3 380.0L632.6 380.8L631.0 381.9L629.7 382.6L629.5 383.3L628.5 383.5L629.5 383.6L629.4 384.4L629.2 387.4L630.1 389.2L629.7 391.4L629.0 392.0L629.8 392.1L630.0 392.5L628.6 392.6L626.4 392.1L624.3 392.1L623.3 392.2L621.2 392.2L620.0 392.8L617.3 392.5L617.1 391.7L616.6 392.5L616.8 392.7L615.7 393.1L612.8 393.4L611.8 393.4L610.5 394.5L610.0 394.1L607.2 395.0L605.4 395.7L604.3 395.5L604.0 395.9L603.9 395.4L602.9 395.3L601.5 395.4L600.0 395.3L600.0 395.0L598.7 394.7L596.3 394.3L593.3 394.0L593.3 394.1L590.5 394.0L589.1 394.5L586.8 394.5L586.7 393.8L586.1 394.5L584.2 394.8L584.9 393.8L583.4 394.9L583.4 395.3L580.7 395.8L579.5 396.1L577.5 396.4L575.1 397.3L575.0 397.5L574.0 398.9L572.8 398.5L573.4 399.4L572.5 400.2L570.7 402.1L570.0 402.5" fill="none"/>
<path d="M636.9 378.5L638.1 377.0L640.1 375.4L641.1 374.3L641.9 373.6L643.3 372.1L645.8 371.4L645.6 372.4L646.2 371.1L646.7 370.6L647.7 370.5L649.2 370.4L651.5 370.3L652.8 371.3L655.0 372.9L656.1 373.4L656.6 374.3L657.0 373.8L656.8 374.9L657.7 376.6L657.4 377.7L658.0 378.8L658.4 379.9L658.4 379.6L660.6 380.5L661.8 381.4L663.4 381.7L665.9 382.0L667.1 382.9L669.0 384.4L670.0 385.7L671.6 386.4L673.1 387.7L674.5 387.8L675.9 388.1L678.3 389.4L679.6 389.7L680.8 389.5L681.6 388.8L681.6 388.0L682.1 388.6L683.2 388.2L685.0 387.4L687.8 386.6L688.1 386.2L690.6 385.7L692.0 385.5L694.0 385.2L695.5 384.5L696.7 384.5L698.0 384.5L700.8 384.4L700.7 385.2L701.2 384.5L702.9 384.5L704.8 385.1L707.3 385.4L708.9 385.8L711.0 385.5L712.2 385.6L715.1 386.5L715.0 387.1L715.8 386.6L716.9 386.4L718.0 388.9L719.0 391.2L720.3 392.8L720.5 394.4L720.6 395.6L721.0 397.9L721.0 399.0L721.1 399.3L720.4 399.3L721.4 399.8L721.8 400.5L722.5 400.4L722.0 400.8L722.7 402.0L723.7 402.8L724.2 402.6L724.0 403.3L724.4 403.8L724.0 404.7L724.6 404.1L724.2 404.4L722.8 406.6L721.9 409.3L721.0 409.6L719.7 410.9L719.4 412.0L718.6 412.8L716.9 414.1L716.0 415.5L715.1 417.3L713.4 419.6L715.0 421.2L715.5 422.3L715.8 423.5L715.8 423.7" fill="none"/>
<path d="M607.2 444.3L608.6 442.5L610.3 441.9L612.2 440.5L613.2 439.8L613.3 439.5L615.0 439.5L617.6 440.5L619.3 440.2L620.1 440.3L620.0 441.5L620.4 440.4L622.1 441.1L622.3 440.4L622.8 441.4L623.7 441.7L626.5 442.3L626.5 442.5L627.5 443.0L628.1 444.3L629.8 445.6L631.4 447.4L631.5 446.6L631.8 447.7L631.9 447.3L633.2 448.4L633.5 449.8L635.4 450.9L636.4 452.2L637.1 452.3L638.8 454.5L638.6 455.8L639.2 455.0L639.7 456.3L641.7 458.3L642.1 459.0L641.5 461.0L641.9 462.5L640.9 465.0L641.0 465.6L638.6 466.9L637.7 466.7L638.1 467.2L637.1 467.9L636.0 469.0L635.6 469.0L636.0 468.9L635.4 469.8L635.2 470.8L634.0 473.1L633.2 475.1L634.2 477.7L634.0 478.0" fill="none"/>
<path d="M888.7 164.4L887.3 165.2L885.4 167.0L885.1 165.7L885.0 167.4L883.6 168.6L883.3 169.3L882.2 168.9L880.7 166.8L880.1 166.1L877.8 165.1L875.5 163.8L874.5 163.4L871.7 162.3L869.4 162.0L869.1 163.0L867.7 164.4L867.0 163.4L867.4 164.9L867.4 166.6L864.7 167.8L863.9 167.5L864.3 168.0L862.0 169.0L861.9 169.5L861.6 170.7L860.6 173.1L859.5 175.6L858.9 176.6L858.9 176.9L857.6 177.0L859.1 177.2L859.9 178.6L860.5 180.1L858.9 182.4L858.5 184.7L857.5 186.3L857.4 187.6L856.9 188.5L856.5 189.8L855.9 190.7L855.4 190.4L855.7 191.1L855.3 192.1L854.2 194.9L852.5 196.9L852.2 199.5L851.8 200.6L851.3 203.3L850.6 204.4L850.3 204.3L849.5 205.8L849.1 207.0L848.4 208.9L847.1 211.3L846.2 210.7L847.0 211.6L846.4 211.9L845.8 213.5L844.9 214.2L844.1 215.7L843.2 218.3L842.3 220.6L840.2 222.9L839.1 224.9L838.8 225.7L837.2 227.2L835.1 228.6L834.0 229.7L832.5 231.1L833.7 233.0L834.3 234.7L835.1 235.6L834.3 235.9L835.3 236.0L835.7 236.3L838.4 236.6L839.4 236.8L841.2 236.5L842.2 236.1L845.0 236.6L847.4 237.5L847.4 237.5L845.7 239.0L844.0 241.2L842.6 242.4L841.9 242.9L842.5 243.9L842.8 245.9L841.9 246.5L843.0 246.4L843.7 248.2L844.6 249.1L844.6 250.6L845.5 252.1L845.5 254.6L846.7 256.8L846.0 256.8L846.5 257.4L845.4 259.3L845.3 260.9L847.5 261.0L849.9 260.7L851.6 260.5L853.2 260.0L855.2 260.0L856.9 259.4L858.1 258.7L858.3 258.5L860.4 260.2L861.8 260.9L862.8 262.0L863.7 262.0L863.2 264.1L863.6 265.4L863.2 266.4L863.4 267.3L862.0 268.9L861.2 270.0L860.0 271.1L858.4 272.8L857.7 272.7L857.9 273.3L858.0 272.6L856.7 274.7L856.4 275.9L856.1 275.3L856.1 276.3L855.7 276.7L854.5 278.7L853.8 279.4L852.3 279.1L850.8 279.3L847.9 278.7L846.9 279.0L846.8 279.3L846.3 279.0L846.5 279.2L843.6 279.8L841.5 280.7L840.3 281.4L839.6 280.8L839.9 281.9L839.0 282.9L838.1 283.7L836.5 285.0L836.7 285.5L836.2 285.4L835.8 286.7L834.5 287.5L832.4 289.0L830.4 290.1L829.2 290.8L829.3 292.4L828.5 294.7L828.5 295.8L828.1 297.7L828.4 299.5L827.4 300.1L824.7 300.8L823.4 301.3L821.0 302.8L820.9 302.7L818.1 303.8L817.5 303.8L816.1 303.0L814.4 302.8L813.0 302.8L810.4 302.1L808.8 302.4L807.3 302.7L806.3 302.8L805.8 302.3L803.1 303.0L801.4 304.1L799.0 304.1L798.6 304.9L796.3 306.0L794.6 308.1L792.4 309.6L792.0 309.7L791.0 309.2L791.5 310.0L789.5 311.3L787.9 311.8L787.5 310.5L787.4 312.1L786.1 312.6L785.5 313.1L784.9 314.9L784.9 316.9L784.5 316.8L784.7 317.6L783.7 319.0L783.2 320.5L783.0 321.7L782.3 323.6L781.6 324.9L781.0 326.6L780.9 328.3L780.2 329.1L779.3 331.3L778.5 332.9L778.0 334.4L777.4 336.1L778.2 337.4L779.8 339.5L782.3 341.1L782.3 341.4L781.1 343.0L779.1 344.2L779.6 344.4L778.6 344.6L778.1 345.2L775.6 344.5L774.0 344.2L771.4 344.1L770.7 343.8L770.4 345.8L770.1 347.3L769.6 347.6L770.0 348.0L770.2 349.4L769.6 350.3L769.9 351.2L770.1 352.4L771.9 354.8L771.5 355.3L772.1 355.2L772.3 357.2L772.8 357.7L772.4 357.5L772.9 358.2L773.3 358.8L773.2 360.8L772.2 361.2L773.3 361.4L773.8 363.2L772.7 362.5L773.8 363.5L773.6 365.1L774.2 365.0L774.7 366.1L775.0 368.0L776.5 369.8L776.8 370.9L777.1 371.4L778.5 372.1L780.9 372.8L781.8 373.3L783.4 373.9L783.3 374.0L782.5 375.1L783.5 374.2L785.5 375.6L787.9 377.3L789.8 376.6L792.3 376.2L794.0 376.1L795.1 376.4L796.2 377.0L798.4 378.0L800.5 378.7L800.6 378.9L802.6 380.0L802.0 380.2L803.0 380.2L804.4 381.0L805.3 381.8L806.0 382.3L805.3 382.0L805.8 382.7L804.4 384.2L803.8 385.6L805.4 385.7L805.5 385.4L806.0 385.8L807.0 386.2L808.1 386.2L810.2 386.4" fill="none"/>
<path d="M749.4 465.2L750.9 464.3L750.6 464.0L751.3 464.2L752.1 464.0L754.9 463.1L756.6 462.1L756.8 461.8L757.1 461.1L757.2 461.7L758.7 461.6L760.9 461.4L762.3 460.7L764.9 459.9L765.3 459.6L767.4 459.1L770.0 459.1L771.8 458.5L773.0 458.6L774.4 458.5L776.1 457.8L777.8 457.9L779.4 457.5L781.8 457.4L783.2 457.9L785.8 457.5L787.7 457.6L789.4 456.6L790.7 456.2L792.8 455.1L794.3 454.9L796.4 453.7L799.1 453.2L800.1 453.0L801.6 452.8L804.0 452.3L806.5 452.7L807.9 452.2L808.0 452.5L807.8 453.0L808.5 452.8L810.3 453.5L810.0 453.9L810.7 453.7L811.1 454.4L813.5 455.5L814.3 456.5L815.3 457.5L816.5 458.0L817.7 458.0L820.2 457.5L823.0 458.1L824.5 457.8L825.7 457.7L827.2 458.0L830.0 457.2L832.7 456.7L834.9 456.7L835.3 453.8L835.2 451.3L835.8 449.3L836.2 448.0L836.8 446.1" fill="none"/>
<path d="M775.0 483.4L784.6 479.1L794.2 480.2" fill="none"/>
<path d="M794.1 480.0L796.4 479.3L798.5 478.5L800.2 477.9L801.8 477.3L803.0 476.0L804.6 474.6L806.3 473.9L807.9 473.1L807.7 472.4L809.7 470.9L811.2 468.7L812.3 467.4L815.0 467.0L816.9 466.5L819.4 466.6L821.0 466.5L821.5 465.0L823.2 463.2L823.5 463.3L823.3 462.9L823.8 462.4L821.9 460.5L820.4 460.1L818.0 458.4L817.9 459.2L817.5 458.1L816.5 457.8" fill="none"/>
<path d="M808.1 472.3L810.3 473.7L813.2 474.1L814.3 474.9L816.0 476.7L817.4 478.5L817.6 479.1L819.9 480.8L820.5 481.9L822.6 483.1L822.9 483.4L825.5 484.9L825.5 485.3L826.0 485.3L827.2 486.4L829.7 487.8L829.8 488.2L830.3 488.0L832.1 488.0L833.2 488.8L834.3 489.6L833.5 490.0L834.5 490.1L834.8 492.3L835.7 493.9L835.4 492.8L835.1 494.2L834.0 494.6L833.2 495.3L831.7 495.9L831.5 496.0L829.8 496.1L828.0 495.8L826.5 494.9L825.0 495.3L824.1 494.5L821.8 493.9L820.7 493.3L818.7 492.2L818.7 492.2L818.7 490.9L818.3 492.2L816.4 491.6L813.4 491.8L810.6 491.8L807.8 491.6L806.1 491.6L805.0 490.7L803.0 489.9L801.5 488.2L800.6 487.6L799.5 486.3L799.5 485.1L799.1 484.0L798.2 483.7L796.2 481.5L794.2 480.5L794.2 480.2" fill="none"/>
<path d="M813.4 491.8L813.6 491.5L814.1 491.9L814.5 491.9L816.7 492.2L818.9 492.7L818.5 493.0L819.2 492.7L821.0 492.6L821.8 493.6L824.2 494.4L826.3 495.6L827.3 495.8L830.2 496.4L832.7 497.2L833.7 497.2L835.0 494.6L835.7 494.0" fill="none"/>
<path d="M835.7 494.0L836.2 492.4L837.3 493.3L836.4 492.1L837.4 490.4L838.0 489.3L839.8 487.4L840.2 486.6L841.0 484.0L842.3 481.7L843.2 482.2L842.6 481.1L843.6 480.7L843.2 480.3L843.9 480.1L843.9 478.9L844.8 477.3L845.3 476.7L847.3 477.2L849.4 477.0L849.6 477.7L849.9 477.0L849.3 477.1L850.7 479.3L851.2 481.1L851.6 482.4L854.1 484.0L856.6 485.0L858.0 486.3L858.7 487.3L858.2 486.1L859.6 485.7L860.9 484.4L861.3 484.4" fill="none"/>
<path d="M805.8 486.5L807.2 488.3L807.9 487.9L807.4 488.7L808.3 489.7L809.8 490.8L811.0 492.2L812.2 493.5L811.9 493.7L811.7 496.3L811.8 497.6L811.2 500.2L811.1 500.3L812.2 501.4L813.3 503.0L814.2 503.8L815.0 504.7L815.2 505.7L815.8 507.0L817.3 508.7L818.4 510.6L818.8 511.9L820.0 514.3L820.8 516.6L821.7 518.5L822.4 519.3L823.4 520.0L824.8 521.0L825.8 522.8L827.1 523.9L828.3 525.6L828.3 525.8" fill="none"/>
<path d="M828.3 525.8L829.6 527.2L831.5 528.4L832.5 529.6L833.8 529.8L834.5 530.6L836.0 531.6L837.8 532.7L839.0 533.1L840.3 534.8L842.1 535.3L843.4 537.0L843.2 537.4L843.6 537.2L844.3 537.7L846.3 536.5L849.0 535.5L851.4 534.4L852.1 534.2L852.0 535.4L852.0 537.2L851.0 537.8L852.1 537.9L852.1 539.2L852.9 541.3L852.7 541.8L852.1 541.9L852.8 542.2L853.2 543.5L853.6 544.4L854.5 546.5L855.0 548.3L853.5 550.3L853.1 551.7L852.4 553.8L851.7 554.5L852.2 555.5L852.8 557.3L853.5 559.7L854.1 561.8L853.9 561.7L856.4 563.0L858.1 563.9L860.0 564.5L860.9 565.4L861.3 565.2L863.2 566.5L863.9 567.4L863.8 568.1L864.4 567.8L866.1 569.1L866.6 569.8L869.1 570.0L870.3 569.9L873.2 570.4L874.1 570.9L875.6 570.3L876.7 570.9L878.7 570.7L881.5 571.1L882.7 571.4L885.4 572.6L887.8 573.2L888.5 573.7" fill="none"/>
<path d="M828.2 525.5L825.4 526.5L823.4 526.7L822.8 526.8L820.2 528.1L817.7 529.5L816.5 530.4L815.1 530.7L815.6 529.9L814.5 530.8L812.4 530.7L810.2 531.0L810.2 531.1L808.4 532.8L807.9 532.7L808.0 533.4L807.4 534.9L805.9 536.4" fill="none"/>
<path d="M806.1 536.7L804.6 537.1L803.2 537.9L801.5 539.1L800.8 540.2L799.7 541.0L799.5 539.7L799.1 541.3L797.2 541.9L796.4 542.9L796.7 543.2L795.9 543.2L794.4 543.5L793.5 544.3L792.6 545.2L792.3 545.3L792.7 546.0L791.7 545.8L790.4 546.2L789.7 547.0L787.6 548.9L785.7 551.0L784.8 551.7L783.3 551.9L781.2 553.7L779.7 554.9L778.5 554.6L779.2 555.3L778.1 555.6L777.2 556.9L776.0 556.7L774.7 557.3L772.6 558.2L771.3 558.2L770.3 558.8L769.8 559.0L767.7 559.1L765.5 559.6L764.3 560.4L762.1 560.7L761.9 559.6L761.8 560.9L759.6 562.1L758.8 561.3L759.0 562.4L757.1 563.6L757.3 563.8L756.8 563.8L755.9 564.8L754.9 565.4L752.6 565.8L751.5 566.6L750.3 567.1L749.5 567.3L749.3 570.3L748.7 572.5L748.1 574.6L747.8 575.9L746.9 576.8L746.6 577.9L745.3 579.5L745.1 580.1L744.5 582.6L743.2 583.0L744.3 583.3L743.6 584.8L743.1 586.5" fill="none"/>
<path d="M806.2 536.5L805.1 538.2L804.5 539.3L803.6 539.3L804.2 539.9L803.3 541.5L802.8 544.0L801.3 546.4L800.7 547.4L800.0 549.0L799.0 551.5L798.4 552.4L798.8 553.5L799.8 554.7L800.3 556.9L801.3 557.8L801.6 558.8L802.5 561.5L803.5 563.9L804.5 565.4L804.9 567.0L805.2 567.3L805.4 570.0L805.3 572.9L805.3 574.0L805.8 575.8L804.5 576.1L805.7 576.1L805.1 577.0L805.3 578.4L804.6 580.8L804.2 582.0L803.6 582.1L802.4 584.1L801.0 586.2L799.5 588.1L798.6 589.1L798.1 588.1L798.3 589.4L798.1 590.1L797.5 590.9L796.9 591.7L796.3 592.6L796.0 592.2L795.9 593.0L795.0 594.1L793.5 595.9L792.3 596.4L791.0 597.7L790.7 596.4L790.6 598.3L791.0 598.2L789.6 599.5L787.9 601.5L787.0 603.3L786.7 603.5" fill="none"/>
<path d="M786.8 603.5L787.4 604.9L788.5 607.2L789.1 608.2L790.1 608.8L791.5 611.3L792.2 612.5L793.0 614.3L795.0 615.4L796.0 616.0L797.0 616.3" fill="none"/>
<path d="M797.1 616.7L797.1 617.9L797.8 616.5L799.8 615.7L801.1 615.6L802.8 615.1L805.2 614.6L806.5 615.0L808.9 614.5L810.0 614.0L810.2 613.4L810.4 614.0L810.2 613.8L811.2 614.3L813.4 614.2L816.1 614.7L817.1 615.0L819.4 614.8L820.5 615.0L821.9 615.0L822.9 615.1L825.5 616.0L826.9 616.1L828.6 616.5L829.9 616.1L832.8 616.8L834.6 617.3L835.7 617.3L837.2 617.5L838.2 617.8L840.4 618.9L842.3 619.1L845.1 619.7L846.0 620.4L848.0 620.4L848.6 620.3L850.7 621.5L852.1 621.4L854.2 622.7L855.6 622.9L856.7 623.4L859.2 623.9L861.3 625.0L861.7 625.9L861.7 625.1L863.3 625.6L865.8 625.7L868.8 626.2L870.2 626.2L872.0 627.3L873.0 626.7L874.9 625.8L876.3 625.1L877.6 625.1L879.5 624.0L879.4 623.4L879.8 623.9L880.5 624.1L882.2 623.0L883.4 622.7L884.9 622.4L886.0 621.2L887.9 620.8L888.5 620.6" fill="none"/>
<path d="M786.7 603.5L785.9 604.8L784.2 606.3L783.1 608.8L781.7 610.3L780.5 611.5L780.4 612.1L779.2 613.9L778.0 615.7L776.6 617.2L775.6 618.6L773.9 620.4L774.2 620.8L773.4 621.7L771.9 623.7L770.1 625.2L769.7 625.8L768.2 626.2L766.8 625.8L763.8 626.1L761.3 626.2L759.3 626.5L756.7 625.1L754.9 625.3L753.8 624.8L754.4 624.5L753.6 624.1L753.1 623.8L752.9 621.7L752.0 619.9L751.6 619.5" fill="none"/>
<path d="M797.2 616.6L795.9 616.1L796.8 616.9L795.8 617.5L795.2 617.4L795.2 618.0L793.6 618.9L792.2 619.8L790.2 621.3L788.8 622.8L787.7 623.8L787.3 623.4L787.3 624.1L786.2 624.1L785.7 624.8L784.2 626.2L783.5 627.3L782.5 627.8L782.6 628.4L782.1 628.2L780.3 629.3L778.8 631.2L777.1 632.7L775.5 634.0L773.9 635.5L775.4 636.0L777.4 637.5L779.4 638.3L781.3 639.8L783.2 641.2L784.2 641.6L785.6 641.9L786.4 643.0L786.7 642.9" fill="none"/>
<path d="M751.2 619.6L750.0 619.7L751.4 620.4L752.4 622.3L752.5 623.5L753.1 625.2L753.8 627.6L753.5 628.9L753.6 629.1L754.2 630.2L754.8 630.3L754.3 630.6L754.8 631.8L754.7 632.9L755.4 635.0L755.8 637.6L755.8 638.6L756.6 640.8L756.8 641.9L756.9 642.9" fill="none"/>
<path d="M746.0 605.5L747.9 603.8L749.1 601.0L750.5 599.5L750.4 599.2L752.2 597.8L754.3 596.6L754.9 596.0L755.1 597.3L756.6 599.1L757.1 600.0L758.3 601.4L757.9 601.6L758.2 602.1L757.8 604.0L756.9 606.7L756.5 606.9L756.8 607.3L757.2 609.1L756.6 609.7L756.7 611.0L755.8 610.7L756.5 611.5L755.0 613.2L753.8 615.8L753.0 615.1L753.6 616.4L753.6 616.2L753.1 617.2L752.0 618.3L750.5 620.5L748.8 620.9L747.0 620.8L746.7 620.6" fill="none"/>
<path d="M626.2 536.6L624.9 540.9L623.2 546.6" fill="none"/>
<path d="M407.2 394.7L409.7 389.7L414.2 387.0L420.0 385.3L425.8 383.7L430.0 383.0" fill="none"/>
<path d="M658.3 456.0L656.6 451.4L657.5 445.6L658.3 449.2L659.6 450.7L665.2 451.6L660.5 452.4L659.0 454.5" fill="none"/>
<path d="M395.0 414.0L398.0 411.0L397.0 409.0L400.0 410.0L403.0 408.0L401.0 412.0L405.0 411.0L402.0 414.0L399.0 415.0L404.0 416.0" fill="none"/>
<path d="M515.0 298.3L511.7 299.7L508.3 298.0L505.3 300.3L502.5 299.2L499.2 301.3L496.7 300.7L500.3 302.7L504.2 301.7L508.0 303.3L511.7 301.7L510.0 305.0" fill="none"/>
<path d="M682.2 451.6L685.0 449.9L687.7 452.0L690.3 449.4L693.5 451.6L691.4 453.5L688.2 452.8L694.5 454.5" fill="none"/>
<path d="M409.4 401.7L410.7 398.3L412.4 393.2L413.6 391.9L414.9 396.6L416.6 400.0L415.8 402.6L412.8 404.3L410.2 403.0L409.4 401.7" fill="none"/>
<path d="M443.5 382.6L447.3 383.9L450.3 387.3" fill="none"/>
<ellipse cx="637.2" cy="113" rx="4.8" ry="5.4" fill="#d1dade"/>
<circle cx="502.8" cy="632.2" r="3.4" fill="#4472b8" stroke="#2a4a80" stroke-width="0.7"/>
<circle cx="449.2" cy="477.5" r="2.6" fill="#e3e8ea" stroke="#fff" stroke-width="0.9"/><circle cx="422.5" cy="525.3" r="2.6" fill="#e3e8ea" stroke="#fff" stroke-width="0.9"/><circle cx="366.3" cy="536.2" r="2.6" fill="#e3e8ea" stroke="#fff" stroke-width="0.9"/><circle cx="475.6" cy="518.2" r="2.6" fill="#e3e8ea" stroke="#fff" stroke-width="0.9"/><circle cx="480.0" cy="549.8" r="2.6" fill="#e3e8ea" stroke="#fff" stroke-width="0.9"/>
</g>
<rect x="59.2" y="102" width="12" height="12" fill="#5aae61" stroke="#4a9a52" stroke-width="0.6"/>
<rect x="59.2" y="132.5" width="12" height="12" fill="#d9312b" stroke="#c22a25" stroke-width="0.6"/>
<rect x="59.2" y="163.2" width="12" height="12" fill="#4472b8" stroke="#3a64a4" stroke-width="0.6"/>
<text x="79.6" y="111.7" textLength="97.5" lengthAdjust="spacingAndGlyphs" font-size="10.8" font-weight="normal" font-style="normal" fill="#333">Countries with CSCs</text>
<text x="80.2" y="123.5" textLength="128.8" lengthAdjust="spacingAndGlyphs" font-size="10.8" font-weight="normal" font-style="normal" fill="#333">(participating in the study)</text>
<text x="79.6" y="141.9" textLength="130.5" lengthAdjust="spacingAndGlyphs" font-size="10.8" font-weight="normal" font-style="normal" fill="#333">Countries without CSCs (at</text>
<text x="79.6" y="154.1" textLength="104.2" lengthAdjust="spacingAndGlyphs" font-size="10.8" font-weight="normal" font-style="normal" fill="#333">the time of the study)</text>
<text x="79.6" y="171.9" textLength="47.2" lengthAdjust="spacingAndGlyphs" font-size="10.8" font-weight="normal" font-style="normal" fill="#333">Uncertain</text>
<text x="59.9" y="635" textLength="96.5" lengthAdjust="spacingAndGlyphs" font-size="7.4" font-weight="bold" font-style="normal" fill="#222">Created with mapchart.net ©</text>
<text x="34.7" y="721.4" textLength="91.5" lengthAdjust="spacingAndGlyphs" font-size="19.6" font-weight="bold" font-style="normal" fill="#1a1a1a" stroke="#1a1a1a" stroke-width="0.25">Figure 1.</text>
<text x="138.4" y="721.4" textLength="429" lengthAdjust="spacingAndGlyphs" font-size="19.6" font-weight="normal" font-style="normal" fill="#1a1a1a" stroke="#1a1a1a" stroke-width="0.25">Overview of CSCs across the European Union.</text>
<text x="34.7" y="744.7" textLength="35.6" lengthAdjust="spacingAndGlyphs" font-size="17.4" font-weight="normal" font-style="italic" fill="#1a1a1a" stroke="#1a1a1a" stroke-width="0.25">Note</text>
<text x="71.0" y="744.7" textLength="669.1" lengthAdjust="spacingAndGlyphs" font-size="17.4" font-weight="normal" font-style="normal" fill="#1a1a1a" stroke="#1a1a1a" stroke-width="0.25">: This overview is based on the information available at the time of data collection.</text>
<text x="34.7" y="769.1" textLength="48.4" lengthAdjust="spacingAndGlyphs" font-size="17.4" font-weight="normal" font-style="italic" fill="#1a1a1a" stroke="#1a1a1a" stroke-width="0.25">Source</text>
<text x="84.0" y="769.1" textLength="387.8" lengthAdjust="spacingAndGlyphs" font-size="17.4" font-weight="normal" font-style="normal" fill="#1a1a1a" stroke="#1a1a1a" stroke-width="0.25">: Own construction, created with mapchart.net.</text>
</svg>
</body></html>
